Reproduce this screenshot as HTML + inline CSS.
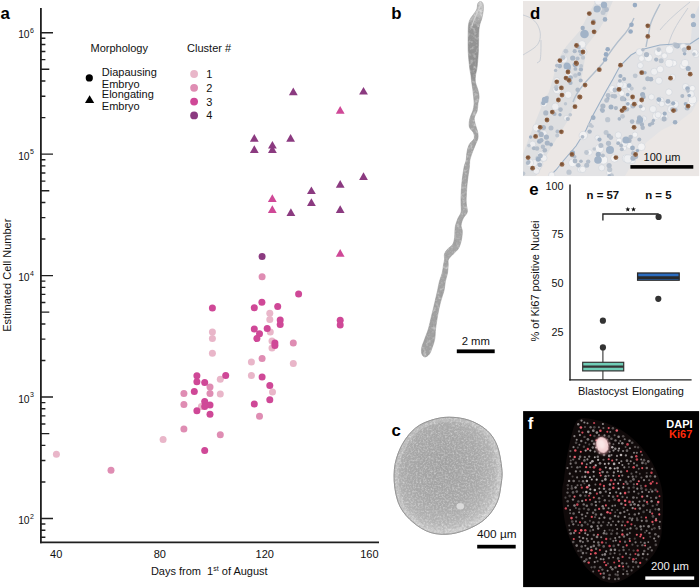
<!DOCTYPE html><html><head><meta charset="utf-8"><style>html,body{margin:0;padding:0;background:#fff;overflow:hidden}svg{display:block;}text{font-family:"Liberation Sans",sans-serif;}</style></head><body>
<svg width="700" height="588" viewBox="0 0 700 588">
<rect width="700" height="588" fill="#fff"/>
<text x="0.6" y="19.3" font-size="16.8" font-weight="bold" fill="#000">a</text>
<line x1="40.9" y1="8" x2="40.9" y2="543.2" stroke="#1f1f1f" stroke-width="1.8"/>
<line x1="40" y1="542.4" x2="379" y2="542.4" stroke="#1f1f1f" stroke-width="1.6"/>
<path d="M40.9 537.31H45.4 M40.9 530.27H45.4 M40.9 524.06H45.4 M40.9 518.50H53 M40.9 481.94H45.4 M40.9 460.55H45.4 M40.9 445.38H45.4 M40.9 433.61H49.3 M40.9 423.99H45.4 M40.9 415.86H45.4 M40.9 408.82H45.4 M40.9 402.61H45.4 M40.9 397.05H53 M40.9 360.49H45.4 M40.9 339.10H45.4 M40.9 323.93H45.4 M40.9 312.16H49.3 M40.9 302.54H45.4 M40.9 294.41H45.4 M40.9 287.37H45.4 M40.9 281.16H45.4 M40.9 275.60H53 M40.9 239.04H45.4 M40.9 217.65H45.4 M40.9 202.48H45.4 M40.9 190.71H49.3 M40.9 181.09H45.4 M40.9 172.96H45.4 M40.9 165.92H45.4 M40.9 159.71H45.4 M40.9 154.15H53 M40.9 117.59H45.4 M40.9 96.20H45.4 M40.9 81.03H45.4 M40.9 69.26H49.3 M40.9 59.64H45.4 M40.9 51.51H45.4 M40.9 44.47H45.4 M40.9 38.26H45.4 M40.9 32.70H53" stroke="#1f1f1f" stroke-width="1.4" fill="none"/>
<text x="29.6" y="524.00" font-size="10.3" text-anchor="end" fill="#111">10</text>
<text x="30.1" y="518.80" font-size="7" fill="#111">2</text>
<text x="29.6" y="402.55" font-size="10.3" text-anchor="end" fill="#111">10</text>
<text x="30.1" y="397.35" font-size="7" fill="#111">3</text>
<text x="29.6" y="281.10" font-size="10.3" text-anchor="end" fill="#111">10</text>
<text x="30.1" y="275.90" font-size="7" fill="#111">4</text>
<text x="29.6" y="159.65" font-size="10.3" text-anchor="end" fill="#111">10</text>
<text x="30.1" y="154.45" font-size="7" fill="#111">5</text>
<text x="29.6" y="38.20" font-size="10.3" text-anchor="end" fill="#111">10</text>
<text x="30.1" y="33.00" font-size="7" fill="#111">6</text>
<text x="56.2" y="557.7" font-size="11" text-anchor="middle" fill="#111">40</text>
<text x="159.8" y="557.7" font-size="11" text-anchor="middle" fill="#111">80</text>
<text x="264.8" y="557.7" font-size="11" text-anchor="middle" fill="#111">120</text>
<text x="369.4" y="557.7" font-size="11" text-anchor="middle" fill="#111">160</text>
<text x="150.9" y="574.7" font-size="11" fill="#111">Days from&#160; 1<tspan font-size="7" dy="-4">st</tspan><tspan dy="4"> of August</tspan></text>
<text transform="translate(11,275.2) rotate(-90)" font-size="11" text-anchor="middle" fill="#111">Estimated Cell Number</text>
<text x="90.5" y="51.7" font-size="11" fill="#111">Morphology</text>
<text x="187.1" y="51.7" font-size="11" fill="#111">Cluster #</text>
<circle cx="89.3" cy="77.9" r="3.6" fill="#000"/>
<path d="M89.6 95.3 L94.2 103.1 L85 103.1Z" fill="#000"/>
<text x="101.8" y="75.8" font-size="11" fill="#111">Diapausing</text>
<text x="101.8" y="87.8" font-size="11" fill="#111">Embryo</text>
<text x="101.8" y="98.3" font-size="11" fill="#111">Elongating</text>
<text x="101.8" y="109.8" font-size="11" fill="#111">Embryo</text>
<circle cx="194.1" cy="74.0" r="3.9" fill="#e9b6c9"/>
<text x="206.2" y="77.9" font-size="11" fill="#111">1</text>
<circle cx="194.1" cy="87.8" r="3.9" fill="#df8db3"/>
<text x="206.2" y="91.7" font-size="11" fill="#111">2</text>
<circle cx="194.1" cy="101.6" r="3.9" fill="#cf4897"/>
<text x="206.2" y="105.5" font-size="11" fill="#111">3</text>
<circle cx="194.1" cy="115.4" r="3.9" fill="#8b3a80"/>
<text x="206.2" y="119.3" font-size="11" fill="#111">4</text>
<circle cx="56.4" cy="454.3" r="3.5" fill="#e9b6c9"/>
<circle cx="163.1" cy="439.5" r="3.5" fill="#e9b6c9"/>
<circle cx="220.3" cy="379.3" r="3.5" fill="#e9b6c9"/>
<circle cx="220.3" cy="394" r="3.5" fill="#e9b6c9"/>
<circle cx="201.4" cy="406.4" r="3.5" fill="#e9b6c9"/>
<circle cx="212.4" cy="332.1" r="3.5" fill="#e9b6c9"/>
<circle cx="212.4" cy="338.6" r="3.5" fill="#e9b6c9"/>
<circle cx="212.4" cy="353.3" r="3.5" fill="#e9b6c9"/>
<circle cx="269.8" cy="313.2" r="3.5" fill="#e9b6c9"/>
<circle cx="269.8" cy="319.4" r="3.5" fill="#e9b6c9"/>
<circle cx="270.3" cy="332.1" r="3.5" fill="#e9b6c9"/>
<circle cx="272" cy="341.1" r="3.5" fill="#e9b6c9"/>
<circle cx="272" cy="348" r="3.5" fill="#e9b6c9"/>
<circle cx="251.4" cy="362.1" r="3.5" fill="#e9b6c9"/>
<circle cx="293.3" cy="363.6" r="3.5" fill="#e9b6c9"/>
<circle cx="251.4" cy="375.4" r="3.5" fill="#e9b6c9"/>
<circle cx="272.5" cy="391.9" r="3.5" fill="#e9b6c9"/>
<circle cx="111" cy="470.3" r="3.5" fill="#df8db3"/>
<circle cx="183.9" cy="429" r="3.5" fill="#df8db3"/>
<circle cx="220.3" cy="434.7" r="3.5" fill="#df8db3"/>
<circle cx="210" cy="386.9" r="3.5" fill="#df8db3"/>
<circle cx="183.9" cy="393.6" r="3.5" fill="#df8db3"/>
<circle cx="210" cy="393.6" r="3.5" fill="#df8db3"/>
<circle cx="183.9" cy="404.6" r="3.5" fill="#df8db3"/>
<circle cx="262.1" cy="276.8" r="3.5" fill="#df8db3"/>
<circle cx="293.3" cy="342.9" r="3.5" fill="#df8db3"/>
<circle cx="262.1" cy="358.6" r="3.5" fill="#df8db3"/>
<circle cx="259.5" cy="416.2" r="3.5" fill="#df8db3"/>
<circle cx="204.7" cy="450.4" r="3.5" fill="#cf4897"/>
<circle cx="196.9" cy="375.7" r="3.5" fill="#cf4897"/>
<circle cx="196.9" cy="381.7" r="3.5" fill="#cf4897"/>
<circle cx="204.7" cy="382.6" r="3.5" fill="#cf4897"/>
<circle cx="225.7" cy="375.4" r="3.5" fill="#cf4897"/>
<circle cx="194.3" cy="391.4" r="3.5" fill="#cf4897"/>
<circle cx="204.7" cy="401.4" r="3.5" fill="#cf4897"/>
<circle cx="210" cy="405" r="3.5" fill="#cf4897"/>
<circle cx="204.7" cy="406.4" r="3.5" fill="#cf4897"/>
<circle cx="196.9" cy="410.7" r="3.5" fill="#cf4897"/>
<circle cx="210" cy="414.3" r="3.5" fill="#cf4897"/>
<circle cx="212.4" cy="308.1" r="3.5" fill="#cf4897"/>
<circle cx="298.6" cy="294.1" r="3.5" fill="#cf4897"/>
<circle cx="261.9" cy="302.3" r="3.5" fill="#cf4897"/>
<circle cx="254.3" cy="307.7" r="3.5" fill="#cf4897"/>
<circle cx="277.7" cy="306.5" r="3.5" fill="#cf4897"/>
<circle cx="280.2" cy="320.1" r="3.5" fill="#cf4897"/>
<circle cx="280.2" cy="324.5" r="3.5" fill="#cf4897"/>
<circle cx="340.2" cy="320.3" r="3.5" fill="#cf4897"/>
<circle cx="340.2" cy="325.1" r="3.5" fill="#cf4897"/>
<circle cx="254.3" cy="329.1" r="3.5" fill="#cf4897"/>
<circle cx="267.2" cy="328.6" r="3.5" fill="#cf4897"/>
<circle cx="259.5" cy="333.8" r="3.5" fill="#cf4897"/>
<circle cx="256.9" cy="338.6" r="3.5" fill="#cf4897"/>
<circle cx="274.9" cy="342.9" r="3.5" fill="#cf4897"/>
<circle cx="274.9" cy="345.4" r="3.5" fill="#cf4897"/>
<circle cx="262.1" cy="377.1" r="3.5" fill="#cf4897"/>
<circle cx="269.8" cy="385.4" r="3.5" fill="#cf4897"/>
<circle cx="269.8" cy="399.8" r="3.5" fill="#cf4897"/>
<circle cx="254.3" cy="404.1" r="3.5" fill="#cf4897"/>
<circle cx="262.1" cy="256.6" r="3.5" fill="#8b3a80"/>
<path d="M293.3 87.5L297.7 95.2L288.9 95.2Z" fill="#8b3a80"/>
<path d="M363.5 86.9L367.9 94.6L359.1 94.6Z" fill="#8b3a80"/>
<path d="M340.2 106.1L344.6 113.8L335.8 113.8Z" fill="#cf4897"/>
<path d="M254.3 134.0L258.7 141.7L249.9 141.7Z" fill="#8b3a80"/>
<path d="M290.6 134.0L295.0 141.7L286.2 141.7Z" fill="#8b3a80"/>
<path d="M254.3 145.2L258.7 152.9L249.9 152.9Z" fill="#8b3a80"/>
<path d="M272.4 140.9L276.8 148.6L268.0 148.6Z" fill="#8b3a80"/>
<path d="M272.4 145.2L276.8 152.9L268.0 152.9Z" fill="#8b3a80"/>
<path d="M311.4 186.4L315.8 194.1L307.0 194.1Z" fill="#8b3a80"/>
<path d="M340.2 180.0L344.6 187.7L335.8 187.7Z" fill="#8b3a80"/>
<path d="M363.5 172.2L367.9 179.9L359.1 179.9Z" fill="#8b3a80"/>
<path d="M311.4 198.3L315.8 206L307.0 206Z" fill="#8b3a80"/>
<path d="M272.3 194.2L276.7 201.9L267.9 201.9Z" fill="#cf4897"/>
<path d="M272.3 205.2L276.7 212.9L267.9 212.9Z" fill="#cf4897"/>
<path d="M290.9 208.3L295.3 216L286.5 216Z" fill="#8b3a80"/>
<path d="M340.2 205.2L344.6 212.9L335.8 212.9Z" fill="#8b3a80"/>
<path d="M340.2 249.1L344.6 256.8L335.8 256.8Z" fill="#cf4897"/>
<text x="391.3" y="18.6" font-size="16.8" font-weight="bold" fill="#000">b</text>
<defs><linearGradient id="bg" x1="0" y1="0" x2="0" y2="1"><stop offset="0" stop-color="#cdcdcd"/><stop offset="0.035" stop-color="#c2c2c2"/><stop offset="0.07" stop-color="#959595"/><stop offset="0.2" stop-color="#8e8e8e"/><stop offset="0.25" stop-color="#a6a6a6"/><stop offset="0.4" stop-color="#a4a4a4"/><stop offset="0.7" stop-color="#a6a6a6"/><stop offset="1" stop-color="#a0a0a0"/></linearGradient></defs>
<path d="M477.8 3.5C477.2 4.9 477.7 7.5 476.5 10.0C475.3 12.5 471.9 16.0 470.6 18.4C469.3 20.8 469.0 22.1 468.6 24.5C468.2 26.9 468.3 28.3 468.2 32.7C468.1 37.1 468.0 45.2 468.2 51.0C468.4 56.8 469.2 63.3 469.6 67.3C470.0 71.3 470.5 72.5 470.9 75.0C471.2 77.5 471.4 79.8 471.7 82.2C472.0 84.6 472.5 87.1 472.8 89.5C473.1 91.9 473.3 94.3 473.6 96.7C473.8 99.1 474.2 101.5 474.1 103.9C474.0 106.3 473.5 108.7 472.8 111.1C472.0 113.5 470.4 115.8 469.9 118.4C469.3 121.1 468.8 124.6 469.4 127.0C470.0 129.4 472.7 130.9 473.5 132.8C474.2 134.7 474.8 136.7 474.1 138.6C473.4 140.5 470.5 142.2 469.3 144.4C468.1 146.6 467.6 149.0 467.1 151.6C466.5 154.2 466.7 157.4 466.2 160.0C465.7 162.6 464.8 163.5 464.1 167.1C463.4 170.7 462.6 176.6 462.0 181.4C461.5 186.2 461.2 191.9 461.0 195.7C460.9 199.4 461.0 201.2 461.0 203.9C461.0 206.6 461.6 209.6 461.1 212.0C460.6 214.4 459.0 216.0 458.0 218.2C457.1 220.4 456.1 223.3 455.5 225.4C455.0 227.5 455.1 228.9 454.9 230.9C454.7 232.9 455.0 235.4 454.6 237.7C454.2 240.0 453.8 242.6 452.6 244.5C451.4 246.4 448.7 247.7 447.4 249.3C446.0 250.9 445.0 252.3 444.5 254.0C444.0 255.7 444.7 257.7 444.5 259.5C444.4 261.3 443.9 262.6 443.5 264.9C443.1 267.1 442.9 270.3 442.2 273.0C441.6 275.7 440.3 278.2 439.5 281.2C438.7 284.1 438.3 287.1 437.5 290.7C436.7 294.3 435.7 298.7 434.7 302.9C433.8 307.1 432.6 311.4 431.6 315.7C430.5 320.0 429.6 324.8 428.5 328.6C427.4 332.5 425.9 335.6 424.8 338.8C423.7 342.0 422.1 345.2 421.7 347.8C421.2 350.4 421.4 352.8 422.0 354.3C422.5 355.8 423.8 357.0 425.0 357.0C426.2 357.0 428.0 355.8 429.2 354.3C430.4 352.8 431.2 350.4 432.1 347.8C433.1 345.2 434.2 342.0 434.8 338.8C435.4 335.6 435.1 332.5 435.6 328.6C436.1 324.8 436.8 320.0 437.6 315.7C438.4 311.4 439.2 307.1 440.3 302.9C441.3 298.7 443.1 294.3 444.0 290.7C444.8 287.1 444.8 284.1 445.4 281.2C446.0 278.2 447.0 275.7 447.5 273.0C447.9 270.3 448.0 267.1 448.2 264.9C448.4 262.6 447.6 261.3 448.5 259.5C449.3 257.7 451.7 255.7 453.3 254.0C454.9 252.3 456.8 250.9 457.9 249.3C459.1 247.7 459.5 246.4 460.2 244.5C460.8 242.6 461.5 240.0 461.8 237.7C462.2 235.4 462.4 232.9 462.3 230.9C462.2 228.9 460.9 227.5 461.1 225.4C461.2 223.3 462.2 220.4 463.3 218.2C464.3 216.0 466.8 214.4 467.3 212.0C467.8 209.6 466.4 206.6 466.3 203.9C466.1 201.2 466.1 199.4 466.3 195.7C466.5 191.9 466.8 186.2 467.4 181.4C467.9 176.6 469.0 170.7 469.4 167.1C469.8 163.5 469.4 162.6 469.9 160.0C470.4 157.4 471.7 154.2 472.6 151.6C473.6 149.0 474.6 146.6 475.5 144.4C476.4 142.2 477.5 140.5 477.9 138.6C478.3 136.7 478.1 134.7 477.8 132.8C477.6 130.9 476.7 129.4 476.1 127.0C475.5 124.6 474.1 121.1 474.2 118.4C474.4 115.8 476.5 113.5 477.1 111.1C477.8 108.7 477.6 106.3 477.9 103.9C478.2 101.5 479.2 99.1 479.1 96.7C479.1 94.3 478.4 91.9 477.8 89.5C477.2 87.1 475.8 84.6 475.4 82.2C475.0 79.8 475.3 77.5 475.6 75.0C475.9 72.5 476.6 71.3 477.1 67.3C477.6 63.3 478.1 56.8 478.4 51.0C478.7 45.2 478.6 37.1 478.8 32.7C479.0 28.3 479.3 26.9 479.8 24.5C480.3 22.1 481.2 20.8 481.8 18.4C482.4 16.0 483.1 12.5 483.3 10.0C483.5 7.5 483.4 4.9 482.9 3.5C482.4 2.1 481.1 1.5 480.3 1.5C479.5 1.5 478.4 2.1 477.8 3.5Z" fill="url(#bg)" stroke="#8f8f8f" stroke-width="0.5"/>
<filter id="nzb" x="0" y="0" width="1" height="1"><feTurbulence type="fractalNoise" baseFrequency="0.3" numOctaves="2" seed="4"/><feColorMatrix type="matrix" values="0 0 0 0 1  0 0 0 0 1  0 0 0 0 1  1.2 0 0 0 -0.58"/><feComposite in2="SourceGraphic" operator="in"/></filter>
<filter id="nzb2" x="0" y="0" width="1" height="1"><feTurbulence type="fractalNoise" baseFrequency="0.35" numOctaves="2" seed="11"/><feColorMatrix type="matrix" values="0 0 0 0 0.3  0 0 0 0 0.3  0 0 0 0 0.3  1.4 0 0 0 -0.65"/><feComposite in2="SourceGraphic" operator="in"/></filter>
<path d="M477.8 3.5C477.2 4.9 477.7 7.5 476.5 10.0C475.3 12.5 471.9 16.0 470.6 18.4C469.3 20.8 469.0 22.1 468.6 24.5C468.2 26.9 468.3 28.3 468.2 32.7C468.1 37.1 468.0 45.2 468.2 51.0C468.4 56.8 469.2 63.3 469.6 67.3C470.0 71.3 470.5 72.5 470.9 75.0C471.2 77.5 471.4 79.8 471.7 82.2C472.0 84.6 472.5 87.1 472.8 89.5C473.1 91.9 473.3 94.3 473.6 96.7C473.8 99.1 474.2 101.5 474.1 103.9C474.0 106.3 473.5 108.7 472.8 111.1C472.0 113.5 470.4 115.8 469.9 118.4C469.3 121.1 468.8 124.6 469.4 127.0C470.0 129.4 472.7 130.9 473.5 132.8C474.2 134.7 474.8 136.7 474.1 138.6C473.4 140.5 470.5 142.2 469.3 144.4C468.1 146.6 467.6 149.0 467.1 151.6C466.5 154.2 466.7 157.4 466.2 160.0C465.7 162.6 464.8 163.5 464.1 167.1C463.4 170.7 462.6 176.6 462.0 181.4C461.5 186.2 461.2 191.9 461.0 195.7C460.9 199.4 461.0 201.2 461.0 203.9C461.0 206.6 461.6 209.6 461.1 212.0C460.6 214.4 459.0 216.0 458.0 218.2C457.1 220.4 456.1 223.3 455.5 225.4C455.0 227.5 455.1 228.9 454.9 230.9C454.7 232.9 455.0 235.4 454.6 237.7C454.2 240.0 453.8 242.6 452.6 244.5C451.4 246.4 448.7 247.7 447.4 249.3C446.0 250.9 445.0 252.3 444.5 254.0C444.0 255.7 444.7 257.7 444.5 259.5C444.4 261.3 443.9 262.6 443.5 264.9C443.1 267.1 442.9 270.3 442.2 273.0C441.6 275.7 440.3 278.2 439.5 281.2C438.7 284.1 438.3 287.1 437.5 290.7C436.7 294.3 435.7 298.7 434.7 302.9C433.8 307.1 432.6 311.4 431.6 315.7C430.5 320.0 429.6 324.8 428.5 328.6C427.4 332.5 425.9 335.6 424.8 338.8C423.7 342.0 422.1 345.2 421.7 347.8C421.2 350.4 421.4 352.8 422.0 354.3C422.5 355.8 423.8 357.0 425.0 357.0C426.2 357.0 428.0 355.8 429.2 354.3C430.4 352.8 431.2 350.4 432.1 347.8C433.1 345.2 434.2 342.0 434.8 338.8C435.4 335.6 435.1 332.5 435.6 328.6C436.1 324.8 436.8 320.0 437.6 315.7C438.4 311.4 439.2 307.1 440.3 302.9C441.3 298.7 443.1 294.3 444.0 290.7C444.8 287.1 444.8 284.1 445.4 281.2C446.0 278.2 447.0 275.7 447.5 273.0C447.9 270.3 448.0 267.1 448.2 264.9C448.4 262.6 447.6 261.3 448.5 259.5C449.3 257.7 451.7 255.7 453.3 254.0C454.9 252.3 456.8 250.9 457.9 249.3C459.1 247.7 459.5 246.4 460.2 244.5C460.8 242.6 461.5 240.0 461.8 237.7C462.2 235.4 462.4 232.9 462.3 230.9C462.2 228.9 460.9 227.5 461.1 225.4C461.2 223.3 462.2 220.4 463.3 218.2C464.3 216.0 466.8 214.4 467.3 212.0C467.8 209.6 466.4 206.6 466.3 203.9C466.1 201.2 466.1 199.4 466.3 195.7C466.5 191.9 466.8 186.2 467.4 181.4C467.9 176.6 469.0 170.7 469.4 167.1C469.8 163.5 469.4 162.6 469.9 160.0C470.4 157.4 471.7 154.2 472.6 151.6C473.6 149.0 474.6 146.6 475.5 144.4C476.4 142.2 477.5 140.5 477.9 138.6C478.3 136.7 478.1 134.7 477.8 132.8C477.6 130.9 476.7 129.4 476.1 127.0C475.5 124.6 474.1 121.1 474.2 118.4C474.4 115.8 476.5 113.5 477.1 111.1C477.8 108.7 477.6 106.3 477.9 103.9C478.2 101.5 479.2 99.1 479.1 96.7C479.1 94.3 478.4 91.9 477.8 89.5C477.2 87.1 475.8 84.6 475.4 82.2C475.0 79.8 475.3 77.5 475.6 75.0C475.9 72.5 476.6 71.3 477.1 67.3C477.6 63.3 478.1 56.8 478.4 51.0C478.7 45.2 478.6 37.1 478.8 32.7C479.0 28.3 479.3 26.9 479.8 24.5C480.3 22.1 481.2 20.8 481.8 18.4C482.4 16.0 483.1 12.5 483.3 10.0C483.5 7.5 483.4 4.9 482.9 3.5C482.4 2.1 481.1 1.5 480.3 1.5C479.5 1.5 478.4 2.1 477.8 3.5Z" fill="#000" filter="url(#nzb)"/>
<path d="M477.8 3.5C477.2 4.9 477.7 7.5 476.5 10.0C475.3 12.5 471.9 16.0 470.6 18.4C469.3 20.8 469.0 22.1 468.6 24.5C468.2 26.9 468.3 28.3 468.2 32.7C468.1 37.1 468.0 45.2 468.2 51.0C468.4 56.8 469.2 63.3 469.6 67.3C470.0 71.3 470.5 72.5 470.9 75.0C471.2 77.5 471.4 79.8 471.7 82.2C472.0 84.6 472.5 87.1 472.8 89.5C473.1 91.9 473.3 94.3 473.6 96.7C473.8 99.1 474.2 101.5 474.1 103.9C474.0 106.3 473.5 108.7 472.8 111.1C472.0 113.5 470.4 115.8 469.9 118.4C469.3 121.1 468.8 124.6 469.4 127.0C470.0 129.4 472.7 130.9 473.5 132.8C474.2 134.7 474.8 136.7 474.1 138.6C473.4 140.5 470.5 142.2 469.3 144.4C468.1 146.6 467.6 149.0 467.1 151.6C466.5 154.2 466.7 157.4 466.2 160.0C465.7 162.6 464.8 163.5 464.1 167.1C463.4 170.7 462.6 176.6 462.0 181.4C461.5 186.2 461.2 191.9 461.0 195.7C460.9 199.4 461.0 201.2 461.0 203.9C461.0 206.6 461.6 209.6 461.1 212.0C460.6 214.4 459.0 216.0 458.0 218.2C457.1 220.4 456.1 223.3 455.5 225.4C455.0 227.5 455.1 228.9 454.9 230.9C454.7 232.9 455.0 235.4 454.6 237.7C454.2 240.0 453.8 242.6 452.6 244.5C451.4 246.4 448.7 247.7 447.4 249.3C446.0 250.9 445.0 252.3 444.5 254.0C444.0 255.7 444.7 257.7 444.5 259.5C444.4 261.3 443.9 262.6 443.5 264.9C443.1 267.1 442.9 270.3 442.2 273.0C441.6 275.7 440.3 278.2 439.5 281.2C438.7 284.1 438.3 287.1 437.5 290.7C436.7 294.3 435.7 298.7 434.7 302.9C433.8 307.1 432.6 311.4 431.6 315.7C430.5 320.0 429.6 324.8 428.5 328.6C427.4 332.5 425.9 335.6 424.8 338.8C423.7 342.0 422.1 345.2 421.7 347.8C421.2 350.4 421.4 352.8 422.0 354.3C422.5 355.8 423.8 357.0 425.0 357.0C426.2 357.0 428.0 355.8 429.2 354.3C430.4 352.8 431.2 350.4 432.1 347.8C433.1 345.2 434.2 342.0 434.8 338.8C435.4 335.6 435.1 332.5 435.6 328.6C436.1 324.8 436.8 320.0 437.6 315.7C438.4 311.4 439.2 307.1 440.3 302.9C441.3 298.7 443.1 294.3 444.0 290.7C444.8 287.1 444.8 284.1 445.4 281.2C446.0 278.2 447.0 275.7 447.5 273.0C447.9 270.3 448.0 267.1 448.2 264.9C448.4 262.6 447.6 261.3 448.5 259.5C449.3 257.7 451.7 255.7 453.3 254.0C454.9 252.3 456.8 250.9 457.9 249.3C459.1 247.7 459.5 246.4 460.2 244.5C460.8 242.6 461.5 240.0 461.8 237.7C462.2 235.4 462.4 232.9 462.3 230.9C462.2 228.9 460.9 227.5 461.1 225.4C461.2 223.3 462.2 220.4 463.3 218.2C464.3 216.0 466.8 214.4 467.3 212.0C467.8 209.6 466.4 206.6 466.3 203.9C466.1 201.2 466.1 199.4 466.3 195.7C466.5 191.9 466.8 186.2 467.4 181.4C467.9 176.6 469.0 170.7 469.4 167.1C469.8 163.5 469.4 162.6 469.9 160.0C470.4 157.4 471.7 154.2 472.6 151.6C473.6 149.0 474.6 146.6 475.5 144.4C476.4 142.2 477.5 140.5 477.9 138.6C478.3 136.7 478.1 134.7 477.8 132.8C477.6 130.9 476.7 129.4 476.1 127.0C475.5 124.6 474.1 121.1 474.2 118.4C474.4 115.8 476.5 113.5 477.1 111.1C477.8 108.7 477.6 106.3 477.9 103.9C478.2 101.5 479.2 99.1 479.1 96.7C479.1 94.3 478.4 91.9 477.8 89.5C477.2 87.1 475.8 84.6 475.4 82.2C475.0 79.8 475.3 77.5 475.6 75.0C475.9 72.5 476.6 71.3 477.1 67.3C477.6 63.3 478.1 56.8 478.4 51.0C478.7 45.2 478.6 37.1 478.8 32.7C479.0 28.3 479.3 26.9 479.8 24.5C480.3 22.1 481.2 20.8 481.8 18.4C482.4 16.0 483.1 12.5 483.3 10.0C483.5 7.5 483.4 4.9 482.9 3.5C482.4 2.1 481.1 1.5 480.3 1.5C479.5 1.5 478.4 2.1 477.8 3.5Z" fill="#000" filter="url(#nzb2)"/>
<path d="M480.5 5 C478 12 474 18 472 26" stroke="#d6d6d6" stroke-width="1.2" fill="none" opacity="0.8"/>
<rect x="456.8" y="349.4" width="37.9" height="3.8" fill="#000"/>
<text x="475.8" y="344.6" font-size="11.3" text-anchor="middle" fill="#111">2 mm</text>
<text x="391.4" y="435.8" font-size="16.8" font-weight="bold" fill="#000">c</text>
<defs><radialGradient id="cg" cx="0.45" cy="0.42" r="0.58"><stop offset="0" stop-color="#a0a0a0"/><stop offset="0.55" stop-color="#a7a7a7"/><stop offset="0.8" stop-color="#b3b3b3"/><stop offset="0.93" stop-color="#c4c4c4"/><stop offset="1" stop-color="#cfcfcf"/></radialGradient><filter id="nz" x="0" y="0" width="1" height="1"><feTurbulence type="fractalNoise" baseFrequency="0.55" numOctaves="2" seed="5"/><feColorMatrix type="matrix" values="0 0 0 0 1  0 0 0 0 1  0 0 0 0 1  1.0 0 0 0 -0.42"/><feComposite in2="SourceGraphic" operator="in"/></filter><filter id="nz2" x="0" y="0" width="1" height="1"><feTurbulence type="fractalNoise" baseFrequency="0.42" numOctaves="2" seed="9"/><feColorMatrix type="matrix" values="0 0 0 0 0.4  0 0 0 0 0.4  0 0 0 0 0.4  1.5 0 0 0 -0.6"/><feComposite in2="SourceGraphic" operator="in"/></filter></defs>
<path d="M448.8 417.2C455.2 417.2 462.8 418.1 469.2 420.3C475.6 422.5 482.3 426.2 487.0 430.5C491.7 434.8 494.7 439.4 497.2 445.8C499.7 452.2 501.1 462.4 501.8 468.8C502.5 475.2 501.9 478.6 501.1 484.1C500.3 489.6 499.6 496.4 497.2 501.9C494.8 507.4 491.2 513.0 487.0 517.2C482.8 521.5 477.6 524.6 471.7 527.4C465.8 530.2 458.1 532.9 451.3 533.8C444.5 534.7 437.3 534.5 430.9 532.6C424.5 530.7 418.2 526.6 413.1 522.3C408.0 518.0 403.4 513.0 400.3 507.0C397.2 501.1 395.6 493.8 394.7 486.6C393.8 479.4 393.8 470.9 395.2 463.7C396.6 456.5 399.5 449.2 402.9 443.3C406.3 437.4 410.9 431.8 415.6 428.0C420.3 424.2 425.4 422.1 430.9 420.3C436.4 418.5 442.4 417.2 448.8 417.2Z" fill="url(#cg)" stroke="#7a7a7a" stroke-width="0.7"/>
<clipPath id="cclip"><path d="M448.8 417.2C455.2 417.2 462.8 418.1 469.2 420.3C475.6 422.5 482.3 426.2 487.0 430.5C491.7 434.8 494.7 439.4 497.2 445.8C499.7 452.2 501.1 462.4 501.8 468.8C502.5 475.2 501.9 478.6 501.1 484.1C500.3 489.6 499.6 496.4 497.2 501.9C494.8 507.4 491.2 513.0 487.0 517.2C482.8 521.5 477.6 524.6 471.7 527.4C465.8 530.2 458.1 532.9 451.3 533.8C444.5 534.7 437.3 534.5 430.9 532.6C424.5 530.7 418.2 526.6 413.1 522.3C408.0 518.0 403.4 513.0 400.3 507.0C397.2 501.1 395.6 493.8 394.7 486.6C393.8 479.4 393.8 470.9 395.2 463.7C396.6 456.5 399.5 449.2 402.9 443.3C406.3 437.4 410.9 431.8 415.6 428.0C420.3 424.2 425.4 422.1 430.9 420.3C436.4 418.5 442.4 417.2 448.8 417.2Z"/></clipPath>
<path d="M448.8 417.2C455.2 417.2 462.8 418.1 469.2 420.3C475.6 422.5 482.3 426.2 487.0 430.5C491.7 434.8 494.7 439.4 497.2 445.8C499.7 452.2 501.1 462.4 501.8 468.8C502.5 475.2 501.9 478.6 501.1 484.1C500.3 489.6 499.6 496.4 497.2 501.9C494.8 507.4 491.2 513.0 487.0 517.2C482.8 521.5 477.6 524.6 471.7 527.4C465.8 530.2 458.1 532.9 451.3 533.8C444.5 534.7 437.3 534.5 430.9 532.6C424.5 530.7 418.2 526.6 413.1 522.3C408.0 518.0 403.4 513.0 400.3 507.0C397.2 501.1 395.6 493.8 394.7 486.6C393.8 479.4 393.8 470.9 395.2 463.7C396.6 456.5 399.5 449.2 402.9 443.3C406.3 437.4 410.9 431.8 415.6 428.0C420.3 424.2 425.4 422.1 430.9 420.3C436.4 418.5 442.4 417.2 448.8 417.2Z" fill="none" stroke="#d4d4d4" stroke-width="9" opacity="0.4" clip-path="url(#cclip)"/>
<path d="M448.8 417.2C455.2 417.2 462.8 418.1 469.2 420.3C475.6 422.5 482.3 426.2 487.0 430.5C491.7 434.8 494.7 439.4 497.2 445.8C499.7 452.2 501.1 462.4 501.8 468.8C502.5 475.2 501.9 478.6 501.1 484.1C500.3 489.6 499.6 496.4 497.2 501.9C494.8 507.4 491.2 513.0 487.0 517.2C482.8 521.5 477.6 524.6 471.7 527.4C465.8 530.2 458.1 532.9 451.3 533.8C444.5 534.7 437.3 534.5 430.9 532.6C424.5 530.7 418.2 526.6 413.1 522.3C408.0 518.0 403.4 513.0 400.3 507.0C397.2 501.1 395.6 493.8 394.7 486.6C393.8 479.4 393.8 470.9 395.2 463.7C396.6 456.5 399.5 449.2 402.9 443.3C406.3 437.4 410.9 431.8 415.6 428.0C420.3 424.2 425.4 422.1 430.9 420.3C436.4 418.5 442.4 417.2 448.8 417.2Z" fill="#000" filter="url(#nz)"/>
<path d="M448.8 417.2C455.2 417.2 462.8 418.1 469.2 420.3C475.6 422.5 482.3 426.2 487.0 430.5C491.7 434.8 494.7 439.4 497.2 445.8C499.7 452.2 501.1 462.4 501.8 468.8C502.5 475.2 501.9 478.6 501.1 484.1C500.3 489.6 499.6 496.4 497.2 501.9C494.8 507.4 491.2 513.0 487.0 517.2C482.8 521.5 477.6 524.6 471.7 527.4C465.8 530.2 458.1 532.9 451.3 533.8C444.5 534.7 437.3 534.5 430.9 532.6C424.5 530.7 418.2 526.6 413.1 522.3C408.0 518.0 403.4 513.0 400.3 507.0C397.2 501.1 395.6 493.8 394.7 486.6C393.8 479.4 393.8 470.9 395.2 463.7C396.6 456.5 399.5 449.2 402.9 443.3C406.3 437.4 410.9 431.8 415.6 428.0C420.3 424.2 425.4 422.1 430.9 420.3C436.4 418.5 442.4 417.2 448.8 417.2Z" fill="#000" filter="url(#nz2)"/>
<path d="M448.8 417.2C455.2 417.2 462.8 418.1 469.2 420.3C475.6 422.5 482.3 426.2 487.0 430.5C491.7 434.8 494.7 439.4 497.2 445.8C499.7 452.2 501.1 462.4 501.8 468.8C502.5 475.2 501.9 478.6 501.1 484.1C500.3 489.6 499.6 496.4 497.2 501.9C494.8 507.4 491.2 513.0 487.0 517.2C482.8 521.5 477.6 524.6 471.7 527.4C465.8 530.2 458.1 532.9 451.3 533.8C444.5 534.7 437.3 534.5 430.9 532.6C424.5 530.7 418.2 526.6 413.1 522.3C408.0 518.0 403.4 513.0 400.3 507.0C397.2 501.1 395.6 493.8 394.7 486.6C393.8 479.4 393.8 470.9 395.2 463.7C396.6 456.5 399.5 449.2 402.9 443.3C406.3 437.4 410.9 431.8 415.6 428.0C420.3 424.2 425.4 422.1 430.9 420.3C436.4 418.5 442.4 417.2 448.8 417.2Z" fill="none" stroke="#8c8c8c" stroke-width="0.6"/>
<ellipse cx="460.3" cy="506.3" rx="4.2" ry="3.6" fill="#dadada" stroke="#9a9a9a" stroke-width="0.5"/>
<rect x="477.2" y="544.8" width="38.5" height="3.7" fill="#000"/>
<text x="496.8" y="537.6" font-size="11.8" text-anchor="middle" fill="#111">400 µm</text>
<rect x="523" y="1" width="176.2" height="175.1" fill="#ebe7e5"/>
<clipPath id="dclip"><rect x="523" y="1" width="176.2" height="175.1"/></clipPath>
<g clip-path="url(#dclip)">
<path d="M595.5 1 L588 15 L580 30.6 L566.4 46 L557.2 61.3 L553.5 76.6 L549 92 L544.1 100 L536.1 120 L528 140.3 L523 154 L523 176 L536 176 L540.1 168.4 L548.1 152.4 L558.1 136.3 L568.2 120 L576.2 100 L579.5 88 L582.2 75 L584.5 61.3 L586.3 46 L598.6 30.6 L606 18 L609 10 L612.9 1Z" fill="#dedfe1"/>
<path d="M699 38 L690 44 L675 44 L660 45 L648 48 L640 50 L631 55 L620 66 L613 79 L605 93 L598 106 L592 117 L586 130 L576 146 L564 160 L556 170 L550 176 L625 176 L634.1 160.6 L646.2 142.4 L661.4 130.3 L679.6 121.2 L691.7 112.1 L699 100Z" fill="#e3e3e5"/>
<path d="M699 5 L695 14 L692 26 L691 38 L690 44 L699 44Z" fill="#dfe1e5"/>
<path d="M660 4 C656 12 652 18 650 26 C649 34 647 40 646 47 M634 18 C631 25 628 31 622 37 C614 46 608 55 603 63 C597 70 590 77 584 84 C579 90 575 96 573 102" stroke="#b3bfcc" stroke-width="1.4" fill="none"/>
<path d="M523 15 C530 17 536 20 539 28 C542 36 540 44 534 48 C530 51 526 53 523 55 M541 40 C541 48 541 56 540 61 L537 63 M690 2 C680 10 668 20 660 30 M668 46 C672 30 680 20 688 8" stroke="#c6ccd4" stroke-width="0.9" fill="none"/>
<path d="M699 38 L690 44 L675 44 L660 45 L648 48 L640 50 L631 55 L620 66 L613 79 L605 93 L598 106 L592 117 L586 130 L576 146 L564 160 L556 170 L550 176" stroke="#9cb0c6" stroke-width="1.1" fill="none"/>
<circle cx="629.8" cy="88.5" r="2.6" fill="#eeeff1" stroke="#c9ced6" stroke-width="0.5"/>
<circle cx="644.0" cy="118.5" r="2.6" fill="#eeeff1" stroke="#c9ced6" stroke-width="0.5"/>
<circle cx="609.1" cy="172.7" r="2.6" fill="#f3f3f4" stroke="#c9ced6" stroke-width="0.5"/>
<circle cx="671.6" cy="62.9" r="3.5" fill="#eeeff1" stroke="#c9ced6" stroke-width="0.5"/>
<circle cx="656.1" cy="115.9" r="3.6" fill="#f1f1f2" stroke="#c9ced6" stroke-width="0.5"/>
<circle cx="651.4" cy="97.0" r="3.0" fill="#eeeff1" stroke="#c9ced6" stroke-width="0.5"/>
<circle cx="687.6" cy="87.9" r="2.9" fill="#f3f3f4" stroke="#c9ced6" stroke-width="0.5"/>
<circle cx="654.2" cy="71.7" r="3.5" fill="#eeeff1" stroke="#c9ced6" stroke-width="0.5"/>
<circle cx="623.8" cy="85.4" r="3.3" fill="#eeeff1" stroke="#c9ced6" stroke-width="0.5"/>
<circle cx="696.0" cy="54.3" r="3.2" fill="#f1f1f2" stroke="#c9ced6" stroke-width="0.5"/>
<circle cx="663.9" cy="117.1" r="4.0" fill="#f1f1f2" stroke="#c9ced6" stroke-width="0.5"/>
<circle cx="624.0" cy="148.0" r="2.6" fill="#f3f3f4" stroke="#c9ced6" stroke-width="0.5"/>
<circle cx="690.8" cy="103.4" r="3.6" fill="#f3f3f4" stroke="#c9ced6" stroke-width="0.5"/>
<circle cx="658.9" cy="80.7" r="3.5" fill="#eeeff1" stroke="#c9ced6" stroke-width="0.5"/>
<circle cx="672.5" cy="77.3" r="3.2" fill="#eeeff1" stroke="#c9ced6" stroke-width="0.5"/>
<circle cx="601.7" cy="167.8" r="3.1" fill="#eeeff1" stroke="#c9ced6" stroke-width="0.5"/>
<circle cx="664.5" cy="55.8" r="2.9" fill="#f1f1f2" stroke="#c9ced6" stroke-width="0.5"/>
<circle cx="686.6" cy="106.5" r="2.8" fill="#f1f1f2" stroke="#c9ced6" stroke-width="0.5"/>
<circle cx="631.9" cy="159.9" r="3.9" fill="#eeeff1" stroke="#c9ced6" stroke-width="0.5"/>
<circle cx="603.5" cy="160.0" r="4.1" fill="#f3f3f4" stroke="#c9ced6" stroke-width="0.5"/>
<circle cx="673.8" cy="63.2" r="3.0" fill="#f3f3f4" stroke="#c9ced6" stroke-width="0.5"/>
<circle cx="612.4" cy="89.0" r="3.5" fill="#f3f3f4" stroke="#c9ced6" stroke-width="0.5"/>
<circle cx="652.9" cy="109.1" r="3.5" fill="#eeeff1" stroke="#c9ced6" stroke-width="0.5"/>
<circle cx="660.2" cy="101.0" r="4.0" fill="#eeeff1" stroke="#c9ced6" stroke-width="0.5"/>
<circle cx="668.9" cy="92.1" r="3.2" fill="#f3f3f4" stroke="#c9ced6" stroke-width="0.5"/>
<circle cx="621.7" cy="93.3" r="2.8" fill="#f3f3f4" stroke="#c9ced6" stroke-width="0.5"/>
<circle cx="639.5" cy="52.1" r="3.5" fill="#eeeff1" stroke="#c9ced6" stroke-width="0.5"/>
<circle cx="641.5" cy="58.5" r="2.9" fill="#f1f1f2" stroke="#c9ced6" stroke-width="0.5"/>
<circle cx="639.7" cy="103.4" r="2.7" fill="#f1f1f2" stroke="#c9ced6" stroke-width="0.5"/>
<circle cx="589.4" cy="152.4" r="2.8" fill="#f3f3f4" stroke="#c9ced6" stroke-width="0.5"/>
<circle cx="580.6" cy="169.4" r="3.1" fill="#eeeff1" stroke="#c9ced6" stroke-width="0.5"/>
<circle cx="629.4" cy="145.5" r="3.1" fill="#f3f3f4" stroke="#c9ced6" stroke-width="0.5"/>
<circle cx="641.4" cy="146.8" r="3.8" fill="#f3f3f4" stroke="#c9ced6" stroke-width="0.5"/>
<circle cx="660.2" cy="69.3" r="3.4" fill="#f1f1f2" stroke="#c9ced6" stroke-width="0.5"/>
<circle cx="667.7" cy="103.2" r="2.8" fill="#eeeff1" stroke="#c9ced6" stroke-width="0.5"/>
<circle cx="692.5" cy="99.7" r="4.1" fill="#f1f1f2" stroke="#c9ced6" stroke-width="0.5"/>
<circle cx="692.3" cy="88.3" r="2.9" fill="#f3f3f4" stroke="#c9ced6" stroke-width="0.5"/>
<circle cx="620.0" cy="84.6" r="3.3" fill="#eeeff1" stroke="#c9ced6" stroke-width="0.5"/>
<circle cx="675.2" cy="104.2" r="3.6" fill="#eeeff1" stroke="#c9ced6" stroke-width="0.5"/>
<circle cx="661.8" cy="104.0" r="2.8" fill="#eeeff1" stroke="#c9ced6" stroke-width="0.5"/>
<circle cx="599.5" cy="148.5" r="4.2" fill="#f1f1f2" stroke="#c9ced6" stroke-width="0.5"/>
<circle cx="619.0" cy="140.6" r="2.6" fill="#f3f3f4" stroke="#c9ced6" stroke-width="0.5"/>
<circle cx="572.5" cy="162.9" r="3.9" fill="#f3f3f4" stroke="#c9ced6" stroke-width="0.5"/>
<circle cx="641.1" cy="120.2" r="3.3" fill="#f1f1f2" stroke="#c9ced6" stroke-width="0.5"/>
<circle cx="658.2" cy="52.2" r="3.8" fill="#f3f3f4" stroke="#c9ced6" stroke-width="0.5"/>
<circle cx="614.6" cy="158.3" r="3.9" fill="#f3f3f4" stroke="#c9ced6" stroke-width="0.5"/>
<circle cx="624.7" cy="143.4" r="3.1" fill="#eeeff1" stroke="#c9ced6" stroke-width="0.5"/>
<circle cx="685.6" cy="86.8" r="3.3" fill="#eeeff1" stroke="#c9ced6" stroke-width="0.5"/>
<circle cx="671.4" cy="109.3" r="3.9" fill="#eeeff1" stroke="#c9ced6" stroke-width="0.5"/>
<circle cx="626.1" cy="158.4" r="3.8" fill="#eeeff1" stroke="#c9ced6" stroke-width="0.5"/>
<circle cx="658.1" cy="114.8" r="3.1" fill="#eeeff1" stroke="#c9ced6" stroke-width="0.5"/>
<circle cx="629.1" cy="104.6" r="3.8" fill="#eeeff1" stroke="#c9ced6" stroke-width="0.5"/>
<circle cx="683.2" cy="46.7" r="3.1" fill="#eeeff1" stroke="#c9ced6" stroke-width="0.5"/>
<circle cx="640.3" cy="65.5" r="3.0" fill="#eeeff1" stroke="#c9ced6" stroke-width="0.5"/>
<circle cx="629.5" cy="104.0" r="4.1" fill="#eeeff1" stroke="#c9ced6" stroke-width="0.5"/>
<circle cx="628.0" cy="158.9" r="4.1" fill="#eeeff1" stroke="#c9ced6" stroke-width="0.5"/>
<circle cx="683.0" cy="66.0" r="3.3" fill="#f1f1f2" stroke="#c9ced6" stroke-width="0.5"/>
<circle cx="648.4" cy="57.7" r="4.0" fill="#f1f1f2" stroke="#c9ced6" stroke-width="0.5"/>
<circle cx="582.7" cy="169.4" r="3.2" fill="#f1f1f2" stroke="#c9ced6" stroke-width="0.5"/>
<circle cx="583.3" cy="135.5" r="4.2" fill="#f1f1f2" stroke="#c9ced6" stroke-width="0.5"/>
<circle cx="597.5" cy="137.7" r="2.5" fill="#eeeff1" stroke="#c9ced6" stroke-width="0.5"/>
<circle cx="618.3" cy="135.0" r="3.2" fill="#eeeff1" stroke="#c9ced6" stroke-width="0.5"/>
<circle cx="643.0" cy="108.7" r="2.6" fill="#f3f3f4" stroke="#c9ced6" stroke-width="0.5"/>
<circle cx="694.8" cy="52.5" r="3.0" fill="#f3f3f4" stroke="#c9ced6" stroke-width="0.5"/>
<circle cx="685.0" cy="63.1" r="3.8" fill="#f1f1f2" stroke="#c9ced6" stroke-width="0.5"/>
<circle cx="691.0" cy="94.0" r="3.4" fill="#eeeff1" stroke="#c9ced6" stroke-width="0.5"/>
<circle cx="635.0" cy="134.7" r="2.7" fill="#f3f3f4" stroke="#c9ced6" stroke-width="0.5"/>
<circle cx="669.1" cy="63.3" r="4.0" fill="#f1f1f2" stroke="#c9ced6" stroke-width="0.5"/>
<circle cx="669.4" cy="49.6" r="4.0" fill="#f3f3f4" stroke="#c9ced6" stroke-width="0.5"/>
<circle cx="551.7" cy="175.2" r="3.2" fill="#f1f1f2" stroke="#c9ced6" stroke-width="0.5"/>
<circle cx="539.3" cy="164.1" r="3.6" fill="#f0f0f1" stroke="#c9ced6" stroke-width="0.5"/>
<circle cx="532.6" cy="144.3" r="3.2" fill="#eeeef0" stroke="#c9ced6" stroke-width="0.5"/>
<circle cx="540.9" cy="155.3" r="3.7" fill="#f0f0f1" stroke="#c9ced6" stroke-width="0.5"/>
<circle cx="559.4" cy="61.8" r="2.6" fill="#f0f0f1" stroke="#c9ced6" stroke-width="0.5"/>
<circle cx="557.2" cy="89.5" r="4.2" fill="#f0f0f1" stroke="#c9ced6" stroke-width="0.5"/>
<circle cx="582.0" cy="44.4" r="3.8" fill="#f0f0f1" stroke="#c9ced6" stroke-width="0.5"/>
<circle cx="543.9" cy="103.5" r="3.4" fill="#f0f0f1" stroke="#c9ced6" stroke-width="0.5"/>
<circle cx="536.4" cy="127.7" r="3.6" fill="#f0f0f1" stroke="#c9ced6" stroke-width="0.5"/>
<circle cx="569.1" cy="76.1" r="3.7" fill="#f0f0f1" stroke="#c9ced6" stroke-width="0.5"/>
<circle cx="556.9" cy="80.0" r="2.6" fill="#f0f0f1" stroke="#c9ced6" stroke-width="0.5"/>
<circle cx="568.2" cy="94.7" r="3.6" fill="#f0f0f1" stroke="#c9ced6" stroke-width="0.5"/>
<circle cx="544.1" cy="133.4" r="2.9" fill="#eeeef0" stroke="#c9ced6" stroke-width="0.5"/>
<circle cx="567.4" cy="67.9" r="3.3" fill="#eeeef0" stroke="#c9ced6" stroke-width="0.5"/>
<circle cx="583.7" cy="51.9" r="3.4" fill="#eeeef0" stroke="#c9ced6" stroke-width="0.5"/>
<circle cx="565.5" cy="51.7" r="2.6" fill="#eeeef0" stroke="#c9ced6" stroke-width="0.5"/>
<circle cx="555.3" cy="106.6" r="3.6" fill="#eeeef0" stroke="#c9ced6" stroke-width="0.5"/>
<circle cx="543.8" cy="158.1" r="3.3" fill="#f0f0f1" stroke="#c9ced6" stroke-width="0.5"/>
<circle cx="537.3" cy="167.2" r="3.7" fill="#eeeef0" stroke="#c9ced6" stroke-width="0.5"/>
<circle cx="598.5" cy="1.3" r="3.8" fill="#eeeef0" stroke="#c9ced6" stroke-width="0.5"/>
<circle cx="533.8" cy="163.1" r="3.7" fill="#eeeef0" stroke="#c9ced6" stroke-width="0.5"/>
<circle cx="529.9" cy="162.9" r="3.8" fill="#f0f0f1" stroke="#c9ced6" stroke-width="0.5"/>
<circle cx="536.4" cy="170.9" r="3.2" fill="#eeeef0" stroke="#c9ced6" stroke-width="0.5"/>
<circle cx="580.9" cy="51.1" r="2.6" fill="#f0f0f1" stroke="#c9ced6" stroke-width="0.5"/>
<circle cx="566.4" cy="118.1" r="2.7" fill="#f0f0f1" stroke="#c9ced6" stroke-width="0.5"/>
<circle cx="563.7" cy="59.2" r="3.8" fill="#eeeef0" stroke="#c9ced6" stroke-width="0.5"/>
<circle cx="546.2" cy="100.7" r="2.5" fill="#bec6d0"/>
<circle cx="557.4" cy="131.5" r="1.9" fill="#b3bdca"/>
<circle cx="565.5" cy="103.8" r="1.7" fill="#bec6d0"/>
<circle cx="570.5" cy="82.9" r="2.1" fill="#a8b5c5"/>
<circle cx="530.6" cy="137.0" r="1.7" fill="#a0b0c3"/>
<circle cx="581.0" cy="54.2" r="1.8" fill="#b3bdca"/>
<circle cx="570.5" cy="77.6" r="2.4" fill="#a8b5c5"/>
<circle cx="575.4" cy="68.9" r="1.9" fill="#adb8c6"/>
<circle cx="560.0" cy="114.7" r="1.7" fill="#a0b0c3"/>
<circle cx="567.8" cy="119.0" r="2.1" fill="#b3bdca"/>
<circle cx="556.3" cy="87.3" r="2.3" fill="#bec6d0"/>
<circle cx="555.6" cy="70.4" r="1.7" fill="#b3bdca"/>
<circle cx="551.0" cy="144.5" r="1.9" fill="#a0b0c3"/>
<circle cx="605.9" cy="10.5" r="1.7" fill="#adb8c6"/>
<circle cx="539.7" cy="164.8" r="2.4" fill="#a8b5c5"/>
<circle cx="551.0" cy="127.9" r="2.5" fill="#b3bdca"/>
<circle cx="557.2" cy="135.5" r="2.0" fill="#bec6d0"/>
<circle cx="563.1" cy="57.6" r="2.4" fill="#bec6d0"/>
<circle cx="528.6" cy="162.0" r="1.9" fill="#a8b5c5"/>
<circle cx="578.5" cy="46.9" r="2.3" fill="#b3bdca"/>
<circle cx="528.9" cy="145.6" r="1.8" fill="#bec6d0"/>
<circle cx="539.4" cy="141.4" r="2.4" fill="#a0b0c3"/>
<circle cx="577.6" cy="58.4" r="2.0" fill="#b3bdca"/>
<circle cx="569.0" cy="69.5" r="1.8" fill="#bec6d0"/>
<circle cx="572.7" cy="58.0" r="2.6" fill="#a8b5c5"/>
<circle cx="560.5" cy="109.6" r="2.3" fill="#adb8c6"/>
<circle cx="533.9" cy="148.2" r="2.0" fill="#adb8c6"/>
<circle cx="570.3" cy="114.7" r="1.8" fill="#bec6d0"/>
<circle cx="546.4" cy="137.1" r="2.6" fill="#a8b5c5"/>
<circle cx="559.8" cy="66.1" r="2.3" fill="#a8b5c5"/>
<circle cx="541.3" cy="140.2" r="2.2" fill="#a8b5c5"/>
<circle cx="582.7" cy="28.0" r="2.2" fill="#a0b0c3"/>
<circle cx="580.9" cy="69.4" r="2.1" fill="#a8b5c5"/>
<circle cx="574.9" cy="64.8" r="2.4" fill="#a0b0c3"/>
<circle cx="556.3" cy="89.3" r="1.8" fill="#b3bdca"/>
<circle cx="598.3" cy="8.6" r="2.5" fill="#b3bdca"/>
<circle cx="527.8" cy="163.1" r="2.0" fill="#adb8c6"/>
<circle cx="540.3" cy="155.7" r="2.5" fill="#a8b5c5"/>
<circle cx="583.0" cy="57.7" r="2.1" fill="#bec6d0"/>
<circle cx="575.4" cy="75.5" r="2.3" fill="#bec6d0"/>
<circle cx="523.3" cy="173.6" r="2.1" fill="#bec6d0"/>
<circle cx="568.3" cy="67.1" r="2.6" fill="#a0b0c3"/>
<circle cx="542.9" cy="146.8" r="2.2" fill="#b3bdca"/>
<circle cx="537.3" cy="157.9" r="1.9" fill="#bec6d0"/>
<circle cx="593.6" cy="21.1" r="2.2" fill="#b3bdca"/>
<circle cx="556.8" cy="65.6" r="1.8" fill="#b3bdca"/>
<circle cx="538.9" cy="131.1" r="1.7" fill="#adb8c6"/>
<circle cx="545.8" cy="112.9" r="2.6" fill="#adb8c6"/>
<circle cx="579.2" cy="74.1" r="2.0" fill="#a8b5c5"/>
<circle cx="543.2" cy="103.1" r="2.2" fill="#a0b0c3"/>
<circle cx="547.3" cy="143.0" r="2.6" fill="#a8b5c5"/>
<circle cx="554.5" cy="114.0" r="2.1" fill="#adb8c6"/>
<circle cx="604.2" cy="8.7" r="2.2" fill="#bec6d0"/>
<circle cx="605.0" cy="19.4" r="2.3" fill="#a0b0c3"/>
<circle cx="577.7" cy="89.7" r="2.3" fill="#adb8c6"/>
<circle cx="546.9" cy="97.9" r="2.1" fill="#adb8c6"/>
<circle cx="538.3" cy="159.3" r="2.5" fill="#a0b0c3"/>
<circle cx="576.1" cy="64.6" r="2.4" fill="#adb8c6"/>
<circle cx="603.1" cy="12.5" r="2.5" fill="#bec6d0"/>
<circle cx="579.8" cy="51.3" r="1.8" fill="#a8b5c5"/>
<circle cx="606.6" cy="9.5" r="2.4" fill="#b3bdca"/>
<circle cx="565.8" cy="51.3" r="2.4" fill="#bec6d0"/>
<circle cx="574.7" cy="51.2" r="2.1" fill="#adb8c6"/>
<circle cx="541.2" cy="134.4" r="2.6" fill="#a8b5c5"/>
<circle cx="581.1" cy="66.1" r="2.0" fill="#bec6d0"/>
<circle cx="537.0" cy="148.5" r="2.3" fill="#b3bdca"/>
<circle cx="532.2" cy="169.4" r="1.8" fill="#bec6d0"/>
<circle cx="544.8" cy="150.3" r="2.3" fill="#adb8c6"/>
<circle cx="543.5" cy="127.4" r="2.5" fill="#adb8c6"/>
<circle cx="580.7" cy="80.4" r="2.0" fill="#a8b5c5"/>
<circle cx="656.2" cy="59.6" r="2.1" fill="#a8b5c5"/>
<circle cx="642.6" cy="94.5" r="2.5" fill="#a0b0c3"/>
<circle cx="582.5" cy="136.8" r="1.9" fill="#b3bdca"/>
<circle cx="630.6" cy="137.0" r="2.3" fill="#b3bdca"/>
<circle cx="627.7" cy="94.6" r="1.9" fill="#a0b0c3"/>
<circle cx="608.5" cy="143.3" r="2.6" fill="#b3bdca"/>
<circle cx="645.0" cy="72.8" r="1.8" fill="#a8b5c5"/>
<circle cx="612.4" cy="96.0" r="2.0" fill="#b3bdca"/>
<circle cx="609.7" cy="169.6" r="2.6" fill="#bec6d0"/>
<circle cx="688.5" cy="47.5" r="1.9" fill="#adb8c6"/>
<circle cx="611.6" cy="175.5" r="2.3" fill="#bec6d0"/>
<circle cx="602.9" cy="155.4" r="2.0" fill="#b3bdca"/>
<circle cx="621.8" cy="149.2" r="2.0" fill="#b3bdca"/>
<circle cx="642.9" cy="49.8" r="1.8" fill="#b3bdca"/>
<circle cx="677.3" cy="45.9" r="2.5" fill="#a0b0c3"/>
<circle cx="629.1" cy="85.6" r="2.3" fill="#a0b0c3"/>
<circle cx="575.0" cy="161.0" r="2.4" fill="#adb8c6"/>
<circle cx="629.1" cy="140.4" r="2.5" fill="#adb8c6"/>
<circle cx="673.2" cy="103.3" r="2.1" fill="#a0b0c3"/>
<circle cx="639.3" cy="139.4" r="2.0" fill="#adb8c6"/>
<circle cx="624.1" cy="79.0" r="2.1" fill="#a8b5c5"/>
<circle cx="600.9" cy="145.4" r="2.5" fill="#b3bdca"/>
<circle cx="614.8" cy="96.3" r="2.4" fill="#b3bdca"/>
<circle cx="602.9" cy="106.1" r="2.6" fill="#adb8c6"/>
<circle cx="569.0" cy="172.2" r="2.6" fill="#bec6d0"/>
<circle cx="578.3" cy="165.2" r="2.3" fill="#adb8c6"/>
<circle cx="641.9" cy="124.5" r="2.2" fill="#a8b5c5"/>
<circle cx="618.2" cy="143.2" r="1.9" fill="#a8b5c5"/>
<circle cx="624.2" cy="110.1" r="2.4" fill="#bec6d0"/>
<circle cx="607.7" cy="119.7" r="2.6" fill="#bec6d0"/>
<circle cx="664.7" cy="113.7" r="2.1" fill="#a0b0c3"/>
<circle cx="643.4" cy="96.9" r="2.3" fill="#a8b5c5"/>
<circle cx="620.4" cy="76.0" r="2.1" fill="#a0b0c3"/>
<circle cx="687.5" cy="88.5" r="2.3" fill="#a0b0c3"/>
<circle cx="658.7" cy="49.6" r="2.3" fill="#bec6d0"/>
<circle cx="652.3" cy="123.3" r="2.0" fill="#adb8c6"/>
<circle cx="574.7" cy="156.8" r="1.8" fill="#b3bdca"/>
<circle cx="694.0" cy="54.1" r="1.8" fill="#bec6d0"/>
<circle cx="621.1" cy="145.4" r="1.9" fill="#adb8c6"/>
<circle cx="642.7" cy="127.8" r="2.2" fill="#adb8c6"/>
<circle cx="572.5" cy="152.9" r="2.6" fill="#a0b0c3"/>
<circle cx="606.1" cy="132.5" r="2.5" fill="#bec6d0"/>
<circle cx="637.4" cy="150.6" r="1.7" fill="#a0b0c3"/>
<circle cx="635.2" cy="75.8" r="2.4" fill="#bec6d0"/>
<circle cx="632.5" cy="148.0" r="2.4" fill="#a0b0c3"/>
<circle cx="608.9" cy="135.8" r="2.2" fill="#a8b5c5"/>
<circle cx="668.0" cy="101.4" r="2.4" fill="#a8b5c5"/>
<circle cx="627.8" cy="103.8" r="1.9" fill="#a0b0c3"/>
<circle cx="593.2" cy="117.7" r="2.4" fill="#a0b0c3"/>
<circle cx="586.7" cy="165.3" r="2.5" fill="#b3bdca"/>
<circle cx="601.4" cy="109.7" r="1.7" fill="#adb8c6"/>
<circle cx="622.5" cy="116.3" r="2.4" fill="#bec6d0"/>
<circle cx="638.4" cy="122.0" r="2.5" fill="#b3bdca"/>
<circle cx="633.0" cy="158.2" r="2.6" fill="#a8b5c5"/>
<circle cx="687.2" cy="107.9" r="2.5" fill="#b3bdca"/>
<circle cx="674.7" cy="44.5" r="2.3" fill="#bec6d0"/>
<circle cx="650.9" cy="79.2" r="2.4" fill="#a8b5c5"/>
<circle cx="620.1" cy="89.3" r="2.0" fill="#bec6d0"/>
<circle cx="688.2" cy="68.4" r="2.5" fill="#a0b0c3"/>
<circle cx="688.0" cy="91.1" r="1.8" fill="#b3bdca"/>
<circle cx="599.5" cy="139.6" r="2.1" fill="#a0b0c3"/>
<circle cx="594.2" cy="149.0" r="1.8" fill="#bec6d0"/>
<circle cx="684.6" cy="53.8" r="1.8" fill="#a0b0c3"/>
<circle cx="633.4" cy="153.3" r="2.4" fill="#b3bdca"/>
<circle cx="608.1" cy="95.4" r="2.4" fill="#b3bdca"/>
<circle cx="615.9" cy="108.1" r="2.1" fill="#adb8c6"/>
<circle cx="675.7" cy="110.0" r="1.9" fill="#adb8c6"/>
<circle cx="640.7" cy="106.4" r="1.9" fill="#adb8c6"/>
<circle cx="649.8" cy="124.7" r="2.0" fill="#a8b5c5"/>
<circle cx="610.8" cy="137.6" r="2.4" fill="#b3bdca"/>
<circle cx="592.0" cy="126.2" r="1.8" fill="#bec6d0"/>
<circle cx="685.6" cy="103.8" r="1.9" fill="#a0b0c3"/>
<circle cx="635.7" cy="156.4" r="2.5" fill="#adb8c6"/>
<circle cx="586.5" cy="152.5" r="2.4" fill="#bec6d0"/>
<circle cx="658.9" cy="99.6" r="2.4" fill="#a0b0c3"/>
<circle cx="639.3" cy="117.6" r="2.3" fill="#a8b5c5"/>
<circle cx="619.3" cy="118.9" r="1.8" fill="#a8b5c5"/>
<circle cx="661.2" cy="60.7" r="2.5" fill="#bec6d0"/>
<circle cx="653.4" cy="120.4" r="1.7" fill="#a8b5c5"/>
<circle cx="676.3" cy="45.4" r="2.6" fill="#b3bdca"/>
<circle cx="644.3" cy="88.3" r="1.8" fill="#bec6d0"/>
<circle cx="609.2" cy="175.7" r="1.7" fill="#a8b5c5"/>
<circle cx="589.6" cy="131.6" r="2.2" fill="#a8b5c5"/>
<circle cx="642.6" cy="72.6" r="2.1" fill="#a8b5c5"/>
<circle cx="646.5" cy="54.6" r="2.6" fill="#adb8c6"/>
<circle cx="684.3" cy="49.7" r="2.5" fill="#bec6d0"/>
<circle cx="675.1" cy="122.2" r="2.3" fill="#a0b0c3"/>
<circle cx="631.7" cy="88.6" r="2.0" fill="#bec6d0"/>
<circle cx="619.9" cy="80.8" r="1.9" fill="#adb8c6"/>
<circle cx="609.1" cy="165.5" r="2.6" fill="#b3bdca"/>
<circle cx="632.9" cy="105.8" r="2.6" fill="#b3bdca"/>
<circle cx="632.1" cy="121.6" r="2.3" fill="#adb8c6"/>
<circle cx="607.8" cy="98.7" r="1.8" fill="#a0b0c3"/>
<circle cx="689.2" cy="95.5" r="1.8" fill="#a0b0c3"/>
<circle cx="672.4" cy="109.5" r="2.4" fill="#bec6d0"/>
<circle cx="590.0" cy="125.0" r="2.3" fill="#bec6d0"/>
<circle cx="664.1" cy="118.8" r="2.6" fill="#adb8c6"/>
<circle cx="572.3" cy="155.3" r="2.3" fill="#a8b5c5"/>
<circle cx="606.6" cy="100.4" r="2.4" fill="#b3bdca"/>
<circle cx="602.6" cy="110.6" r="2.3" fill="#a8b5c5"/>
<circle cx="624.4" cy="99.3" r="2.0" fill="#a0b0c3"/>
<circle cx="614.9" cy="90.0" r="2.4" fill="#b3bdca"/>
<circle cx="598.3" cy="154.4" r="2.6" fill="#a0b0c3"/>
<circle cx="588.2" cy="161.6" r="2.2" fill="#b3bdca"/>
<circle cx="627.1" cy="109.4" r="2.1" fill="#b3bdca"/>
<circle cx="611.0" cy="107.1" r="2.5" fill="#a0b0c3"/>
<circle cx="622.5" cy="98.7" r="2.6" fill="#b3bdca"/>
<circle cx="647.7" cy="78.7" r="2.5" fill="#adb8c6"/>
<circle cx="682.3" cy="96.1" r="2.0" fill="#adb8c6"/>
<circle cx="581.0" cy="161.3" r="1.8" fill="#adb8c6"/>
<circle cx="584.5" cy="34" r="4.3" fill="#a2b3c7"/>
<circle cx="597" cy="9" r="3.5" fill="#a2b3c7"/>
<circle cx="604" cy="5" r="3.2" fill="#a2b3c7"/>
<circle cx="567" cy="66" r="3.5" fill="#a2b3c7"/>
<circle cx="545" cy="100" r="3.2" fill="#a2b3c7"/>
<circle cx="610" cy="150" r="4" fill="#a2b3c7"/>
<circle cx="626" cy="140" r="3.6" fill="#a2b3c7"/>
<circle cx="598" cy="160" r="3.8" fill="#a2b3c7"/>
<circle cx="640" cy="120" r="3.2" fill="#a2b3c7"/>
<circle cx="693.5" cy="24.5" r="2.6" fill="#a2b3c7"/>
<circle cx="693" cy="16" r="2.4" fill="#a2b3c7"/>
<circle cx="631.5" cy="24.7" r="2.3" fill="#98abc2"/>
<circle cx="630.6" cy="31.5" r="2.3" fill="#98abc2"/>
<circle cx="607.7" cy="49.3" r="2.3" fill="#98abc2"/>
<circle cx="606" cy="54.4" r="2.3" fill="#98abc2"/>
<circle cx="605.1" cy="59.5" r="2.3" fill="#98abc2"/>
<circle cx="634.9" cy="5.1" r="2.3" fill="#98abc2"/>
<circle cx="589.3" cy="13.6" r="2.4" fill="#94694c"/><circle cx="589.0" cy="13.299999999999999" r="1.4" fill="#7b5438"/>
<circle cx="593.2" cy="22.7" r="2.4" fill="#94694c"/><circle cx="592.9000000000001" cy="22.4" r="1.4" fill="#7b5438"/>
<circle cx="594.1" cy="31.8" r="2.4" fill="#94694c"/><circle cx="593.8000000000001" cy="31.5" r="1.4" fill="#7b5438"/>
<circle cx="576.5" cy="45.5" r="2.4" fill="#94694c"/><circle cx="576.2" cy="45.2" r="1.4" fill="#7b5438"/>
<circle cx="559.9" cy="60.6" r="2.4" fill="#94694c"/><circle cx="559.6" cy="60.300000000000004" r="1.4" fill="#7b5438"/>
<circle cx="576.5" cy="63.6" r="2.4" fill="#94694c"/><circle cx="576.2" cy="63.300000000000004" r="1.4" fill="#7b5438"/>
<circle cx="556.8" cy="81.8" r="2.4" fill="#94694c"/><circle cx="556.5" cy="81.5" r="1.4" fill="#7b5438"/>
<circle cx="569" cy="80.3" r="2.4" fill="#94694c"/><circle cx="568.7" cy="80.0" r="1.4" fill="#7b5438"/>
<circle cx="561.4" cy="87.9" r="2.4" fill="#94694c"/><circle cx="561.1" cy="87.60000000000001" r="1.4" fill="#7b5438"/>
<circle cx="558.4" cy="100" r="2.4" fill="#94694c"/><circle cx="558.1" cy="99.7" r="1.4" fill="#7b5438"/>
<circle cx="575" cy="106.7" r="2.4" fill="#94694c"/><circle cx="574.7" cy="106.4" r="1.4" fill="#7b5438"/>
<circle cx="579.6" cy="97" r="2.4" fill="#94694c"/><circle cx="579.3000000000001" cy="96.7" r="1.4" fill="#7b5438"/>
<circle cx="552.3" cy="112.1" r="2.4" fill="#94694c"/><circle cx="552.0" cy="111.8" r="1.4" fill="#7b5438"/>
<circle cx="540.2" cy="127.3" r="2.4" fill="#94694c"/><circle cx="539.9000000000001" cy="127.0" r="1.4" fill="#7b5438"/>
<circle cx="535.6" cy="136.4" r="2.4" fill="#94694c"/><circle cx="535.3000000000001" cy="136.1" r="1.4" fill="#7b5438"/>
<circle cx="561.4" cy="131.8" r="2.4" fill="#94694c"/><circle cx="561.1" cy="131.5" r="1.4" fill="#7b5438"/>
<circle cx="528.1" cy="157.6" r="2.4" fill="#94694c"/><circle cx="527.8000000000001" cy="157.29999999999998" r="1.4" fill="#7b5438"/>
<circle cx="532.6" cy="168.2" r="2.4" fill="#94694c"/><circle cx="532.3000000000001" cy="167.89999999999998" r="1.4" fill="#7b5438"/>
<circle cx="647.8" cy="25.8" r="2.4" fill="#94694c"/><circle cx="647.5" cy="25.5" r="1.4" fill="#7b5438"/>
<circle cx="647.8" cy="36.4" r="2.4" fill="#94694c"/><circle cx="647.5" cy="36.1" r="1.4" fill="#7b5438"/>
<circle cx="688.7" cy="47.9" r="2.4" fill="#94694c"/><circle cx="688.4000000000001" cy="47.6" r="1.4" fill="#7b5438"/>
<circle cx="620.5" cy="65.2" r="2.4" fill="#94694c"/><circle cx="620.2" cy="64.9" r="1.4" fill="#7b5438"/>
<circle cx="641.7" cy="72.7" r="2.4" fill="#94694c"/><circle cx="641.4000000000001" cy="72.4" r="1.4" fill="#7b5438"/>
<circle cx="619" cy="89.4" r="2.4" fill="#94694c"/><circle cx="618.7" cy="89.10000000000001" r="1.4" fill="#7b5438"/>
<circle cx="632.6" cy="97" r="2.4" fill="#94694c"/><circle cx="632.3000000000001" cy="96.7" r="1.4" fill="#7b5438"/>
<circle cx="641.7" cy="100" r="2.4" fill="#94694c"/><circle cx="641.4000000000001" cy="99.7" r="1.4" fill="#7b5438"/>
<circle cx="622" cy="110.6" r="2.4" fill="#94694c"/><circle cx="621.7" cy="110.3" r="1.4" fill="#7b5438"/>
<circle cx="673.5" cy="110.6" r="2.4" fill="#94694c"/><circle cx="673.2" cy="110.3" r="1.4" fill="#7b5438"/>
<circle cx="688.1" cy="106.1" r="2.4" fill="#94694c"/><circle cx="687.8000000000001" cy="105.8" r="1.4" fill="#7b5438"/>
<circle cx="690.2" cy="74.2" r="2.4" fill="#94694c"/><circle cx="689.9000000000001" cy="73.9" r="1.4" fill="#7b5438"/>
<circle cx="634.1" cy="127.3" r="2.4" fill="#94694c"/><circle cx="633.8000000000001" cy="127.0" r="1.4" fill="#7b5438"/>
<circle cx="635.6" cy="154.5" r="2.4" fill="#94694c"/><circle cx="635.3000000000001" cy="154.2" r="1.4" fill="#7b5438"/>
<circle cx="615.9" cy="157.6" r="2.4" fill="#94694c"/><circle cx="615.6" cy="157.29999999999998" r="1.4" fill="#7b5438"/>
<circle cx="599.3" cy="69.7" r="2.4" fill="#94694c"/><circle cx="599.0" cy="69.4" r="1.4" fill="#7b5438"/>
<circle cx="670.5" cy="78.2" r="2.4" fill="#94694c"/><circle cx="670.2" cy="77.9" r="1.4" fill="#7b5438"/>
<circle cx="566" cy="78.1" r="2.4" fill="#94694c"/><circle cx="565.7" cy="77.8" r="1.4" fill="#7b5438"/>
<circle cx="576.1" cy="63" r="2.4" fill="#94694c"/><circle cx="575.8000000000001" cy="62.7" r="1.4" fill="#7b5438"/>
<circle cx="585.1" cy="85.1" r="2.4" fill="#94694c"/><circle cx="584.8000000000001" cy="84.8" r="1.4" fill="#7b5438"/>
<circle cx="562" cy="95.1" r="2.4" fill="#94694c"/><circle cx="561.7" cy="94.8" r="1.4" fill="#7b5438"/>
<circle cx="572" cy="154.4" r="2.4" fill="#94694c"/><circle cx="571.7" cy="154.1" r="1.4" fill="#7b5438"/>
<circle cx="562" cy="164.4" r="2.4" fill="#94694c"/><circle cx="561.7" cy="164.1" r="1.4" fill="#7b5438"/>
<circle cx="580.1" cy="97.1" r="2.4" fill="#94694c"/><circle cx="579.8000000000001" cy="96.8" r="1.4" fill="#7b5438"/>
<circle cx="624.3" cy="108.2" r="2.4" fill="#94694c"/><circle cx="624.0" cy="107.9" r="1.4" fill="#7b5438"/>
<circle cx="634.3" cy="104.2" r="2.4" fill="#94694c"/><circle cx="634.0" cy="103.9" r="1.4" fill="#7b5438"/>
<circle cx="547" cy="120" r="2.4" fill="#94694c"/><circle cx="546.7" cy="119.7" r="1.4" fill="#7b5438"/>
<circle cx="568" cy="72" r="2.4" fill="#94694c"/><circle cx="567.7" cy="71.7" r="1.4" fill="#7b5438"/>
<circle cx="583" cy="52" r="2.4" fill="#94694c"/><circle cx="582.7" cy="51.7" r="1.4" fill="#7b5438"/>
</g>
<text x="530" y="18.7" font-size="16.8" font-weight="bold" fill="#000">d</text>
<rect x="630.4" y="165.1" width="62.9" height="3.6" fill="#000"/>
<text x="662" y="160.6" font-size="11" text-anchor="middle" fill="#111">100 µm</text>
<text x="529.2" y="194.8" font-size="16.8" font-weight="bold" fill="#000">e</text>
<line x1="570" y1="184.4" x2="570" y2="380.6" stroke="#1f1f1f" stroke-width="1.4"/>
<line x1="569.3" y1="379.9" x2="691.6" y2="379.9" stroke="#1f1f1f" stroke-width="1.4"/>
<text x="563.4" y="189.8" font-size="10.8" text-anchor="end" fill="#111">100</text>
<text x="563.4" y="238.4" font-size="10.8" text-anchor="end" fill="#111">75</text>
<text x="563.4" y="287.0" font-size="10.8" text-anchor="end" fill="#111">50</text>
<text x="563.4" y="335.6" font-size="10.8" text-anchor="end" fill="#111">25</text>
<text x="602.9" y="199.1" font-size="11.4" font-weight="bold" text-anchor="middle" fill="#111">n = 57</text>
<text x="658.4" y="199.1" font-size="11.4" font-weight="bold" text-anchor="middle" fill="#111">n = 5</text>
<path d="M602.9 220.6V214H658.6" stroke="#1f1f1f" stroke-width="1.3" fill="none"/>
<path d="M627.80 206.70 L628.45 208.41 L630.27 208.50 L628.85 209.64 L629.33 211.40 L627.80 210.40 L626.27 211.40 L626.75 209.64 L625.33 208.50 L627.15 208.41Z" fill="#111"/>
<path d="M633.50 206.70 L634.15 208.41 L635.97 208.50 L634.55 209.64 L635.03 211.40 L633.50 210.40 L631.97 211.40 L632.45 209.64 L631.03 208.50 L632.85 208.41Z" fill="#111"/>
<line x1="602.9" y1="347.4" x2="602.9" y2="380" stroke="#333" stroke-width="1.1"/>
<rect x="582.7" y="362.3" width="41" height="8.6" fill="#6fcdb6" stroke="#333" stroke-width="1.2"/>
<line x1="582.7" y1="366.6" x2="623.7" y2="366.6" stroke="#333" stroke-width="2.4"/>
<circle cx="602.9" cy="347.4" r="3.1" fill="#333"/>
<circle cx="602.9" cy="320.7" r="3.1" fill="#333"/>
<circle cx="658.6" cy="216.9" r="3.1" fill="#333"/>
<circle cx="658.3" cy="298.8" r="3.1" fill="#333"/>
<rect x="637.6" y="273" width="41.6" height="7.2" fill="#2b6cbf" stroke="#2a2a2a" stroke-width="1.3"/>
<line x1="637.6" y1="277.6" x2="679.2" y2="277.6" stroke="#2a2a2a" stroke-width="2.7"/>
<text x="603" y="395.1" font-size="11" text-anchor="middle" fill="#111">Blastocyst</text>
<text x="657.9" y="395.1" font-size="11" text-anchor="middle" fill="#111">Elongating</text>
<text transform="translate(539.3,281) rotate(-90)" font-size="11" text-anchor="middle" fill="#111">% of Ki67 positive Nuclei</text>
<rect x="523.1" y="411.1" width="176" height="176" fill="#000"/>
<path d="M581.3 418.2C584.3 417.3 589.2 418.8 593.0 419.5C596.8 420.2 599.7 420.6 604.3 422.3C608.9 424.0 615.8 426.8 620.7 429.7C625.6 432.6 629.4 435.5 633.8 439.6C638.2 443.7 643.2 448.8 647.0 454.3C650.8 459.8 654.3 466.4 656.8 472.4C659.3 478.3 661.1 484.1 662.1 490.0C663.1 495.9 663.0 501.9 663.0 507.9C663.0 513.9 662.5 520.4 662.1 525.7C661.7 531.1 661.6 535.5 660.4 540.0C659.2 544.5 657.4 548.6 655.0 552.5C652.6 556.4 649.4 559.9 646.1 563.2C642.8 566.5 639.0 569.4 635.4 572.1C631.8 574.8 628.3 577.5 624.6 579.3C620.9 581.1 616.8 582.8 613.0 583.0C609.2 583.2 604.5 581.4 602.0 580.5C599.5 579.6 600.4 579.5 597.9 577.5C595.4 575.5 590.4 572.2 587.1 568.6C583.8 565.0 580.9 560.6 578.2 556.1C575.5 551.6 573.2 546.9 571.1 541.8C569.0 536.7 567.1 531.4 565.7 525.7C564.4 520.1 563.6 513.9 563.0 507.9C562.4 501.9 562.1 494.8 562.3 490.0C562.5 485.2 563.3 484.1 564.0 479.0C564.7 473.9 565.5 465.3 566.5 459.3C567.5 453.3 568.4 448.6 569.8 442.8C571.2 437.1 572.8 428.9 574.7 424.8C576.6 420.7 578.2 419.1 581.3 418.2Z" fill="#100a0a"/>
<filter id="fb" x="-5%" y="-5%" width="110%" height="110%"><feGaussianBlur stdDeviation="0.35"/></filter><g filter="url(#fb)">
<circle cx="581.5" cy="420.6" r="1.14" fill="rgb(140,134,134)"/>
<circle cx="578.2" cy="424.3" r="1.18" fill="rgb(143,137,137)"/>
<circle cx="584.4" cy="422.5" r="1.06" fill="rgb(143,137,137)"/>
<circle cx="587.5" cy="423.2" r="0.99" fill="rgb(131,125,125)"/>
<circle cx="594.1" cy="423.0" r="1.12" fill="#c04050"/>
<circle cx="602.9" cy="424.0" r="1.08" fill="rgb(145,139,139)"/>
<circle cx="580.9" cy="427.5" r="1.34" fill="#e86070"/>
<circle cx="585.0" cy="427.0" r="0.97" fill="rgb(87,81,81)"/>
<circle cx="590.6" cy="427.3" r="1.19" fill="rgb(115,109,109)"/>
<circle cx="594.3" cy="427.3" r="1.34" fill="rgb(72,66,66)"/>
<circle cx="598.9" cy="427.3" r="1.02" fill="rgb(110,104,104)"/>
<circle cx="603.4" cy="428.1" r="1.07" fill="rgb(103,97,97)"/>
<circle cx="608.7" cy="428.1" r="1.07" fill="#e0505f"/>
<circle cx="612.9" cy="428.2" r="1.22" fill="rgb(93,87,87)"/>
<circle cx="579.0" cy="431.4" r="1.12" fill="rgb(107,101,101)"/>
<circle cx="582.4" cy="432.6" r="1.14" fill="#d04858"/>
<circle cx="588.3" cy="431.8" r="1.33" fill="rgb(141,135,135)"/>
<circle cx="593.3" cy="430.7" r="1.34" fill="rgb(136,130,130)"/>
<circle cx="596.9" cy="432.6" r="1.34" fill="rgb(145,139,139)"/>
<circle cx="600.4" cy="430.8" r="1.31" fill="#e0505f"/>
<circle cx="607.3" cy="431.7" r="1.02" fill="#d04858"/>
<circle cx="610.3" cy="431.9" r="0.97" fill="rgb(122,116,116)"/>
<circle cx="616.8" cy="430.4" r="1.27" fill="#e86070"/>
<circle cx="574.4" cy="436.2" r="1.08" fill="rgb(132,126,126)"/>
<circle cx="579.9" cy="435.1" r="1.07" fill="rgb(145,139,139)"/>
<circle cx="584.5" cy="436.9" r="1.17" fill="rgb(86,80,80)"/>
<circle cx="590.4" cy="435.2" r="0.97" fill="#e0505f"/>
<circle cx="594.4" cy="436.0" r="1.20" fill="rgb(75,69,69)"/>
<circle cx="599.0" cy="435.2" r="1.12" fill="rgb(110,104,104)"/>
<circle cx="604.5" cy="435.4" r="1.06" fill="rgb(138,132,132)"/>
<circle cx="608.9" cy="436.4" r="1.30" fill="rgb(86,80,80)"/>
<circle cx="614.6" cy="435.2" r="1.00" fill="rgb(103,97,97)"/>
<circle cx="618.6" cy="436.8" r="1.27" fill="rgb(137,131,131)"/>
<circle cx="623.2" cy="436.2" r="1.27" fill="rgb(83,77,77)"/>
<circle cx="576.7" cy="439.8" r="1.02" fill="rgb(142,136,136)"/>
<circle cx="581.3" cy="441.0" r="1.20" fill="rgb(128,122,122)"/>
<circle cx="587.9" cy="439.3" r="1.33" fill="rgb(120,114,114)"/>
<circle cx="592.1" cy="441.0" r="1.34" fill="rgb(100,94,94)"/>
<circle cx="596.4" cy="440.3" r="1.01" fill="#e86070"/>
<circle cx="601.0" cy="440.7" r="1.25" fill="#e86070"/>
<circle cx="607.2" cy="439.7" r="1.00" fill="rgb(93,87,87)"/>
<circle cx="611.4" cy="438.7" r="1.29" fill="rgb(99,93,93)"/>
<circle cx="615.5" cy="440.4" r="1.19" fill="rgb(122,116,116)"/>
<circle cx="620.3" cy="441.0" r="0.96" fill="rgb(109,103,103)"/>
<circle cx="624.7" cy="439.3" r="1.05" fill="rgb(116,110,110)"/>
<circle cx="629.5" cy="440.7" r="1.23" fill="rgb(131,125,125)"/>
<circle cx="576.1" cy="442.7" r="1.31" fill="rgb(74,68,68)"/>
<circle cx="579.4" cy="444.8" r="0.99" fill="rgb(124,118,118)"/>
<circle cx="585.6" cy="442.7" r="0.96" fill="rgb(107,101,101)"/>
<circle cx="589.3" cy="444.4" r="1.08" fill="rgb(73,67,67)"/>
<circle cx="594.0" cy="443.7" r="1.25" fill="rgb(144,138,138)"/>
<circle cx="598.8" cy="442.7" r="0.98" fill="rgb(105,99,99)"/>
<circle cx="603.4" cy="443.6" r="0.99" fill="rgb(102,96,96)"/>
<circle cx="609.5" cy="443.4" r="1.07" fill="rgb(127,121,121)"/>
<circle cx="613.4" cy="444.2" r="0.99" fill="rgb(103,97,97)"/>
<circle cx="618.9" cy="443.3" r="1.00" fill="rgb(137,131,131)"/>
<circle cx="622.3" cy="443.3" r="1.25" fill="rgb(142,136,136)"/>
<circle cx="627.5" cy="444.4" r="1.31" fill="#c04050"/>
<circle cx="632.2" cy="442.7" r="1.32" fill="rgb(88,82,82)"/>
<circle cx="573.5" cy="447.2" r="1.09" fill="rgb(135,129,129)"/>
<circle cx="577.8" cy="447.6" r="1.09" fill="rgb(78,72,72)"/>
<circle cx="583.9" cy="446.7" r="1.22" fill="rgb(82,76,76)"/>
<circle cx="587.8" cy="449.0" r="1.18" fill="#e0505f"/>
<circle cx="592.8" cy="447.5" r="1.19" fill="rgb(131,125,125)"/>
<circle cx="596.1" cy="447.5" r="1.02" fill="rgb(182,176,176)"/>
<circle cx="600.8" cy="448.9" r="0.96" fill="rgb(152,146,146)"/>
<circle cx="607.3" cy="448.9" r="1.08" fill="rgb(164,158,158)"/>
<circle cx="612.3" cy="447.3" r="1.22" fill="rgb(182,176,176)"/>
<circle cx="615.3" cy="448.8" r="1.24" fill="rgb(139,133,133)"/>
<circle cx="619.1" cy="448.6" r="1.02" fill="rgb(177,171,171)"/>
<circle cx="625.6" cy="447.0" r="0.96" fill="rgb(97,91,91)"/>
<circle cx="629.9" cy="448.2" r="1.06" fill="rgb(142,136,136)"/>
<circle cx="635.1" cy="446.9" r="1.20" fill="rgb(81,75,75)"/>
<circle cx="638.1" cy="447.4" r="1.15" fill="rgb(79,73,73)"/>
<circle cx="570.4" cy="451.1" r="1.14" fill="rgb(98,92,92)"/>
<circle cx="575.3" cy="450.6" r="1.23" fill="#e0505f"/>
<circle cx="580.8" cy="451.8" r="1.03" fill="#e86070"/>
<circle cx="585.7" cy="450.6" r="1.13" fill="rgb(166,160,160)"/>
<circle cx="590.3" cy="450.6" r="1.13" fill="rgb(162,156,156)"/>
<circle cx="594.8" cy="451.6" r="1.05" fill="rgb(141,135,135)"/>
<circle cx="599.5" cy="452.9" r="1.03" fill="rgb(135,129,129)"/>
<circle cx="603.7" cy="451.6" r="1.01" fill="#d04858"/>
<circle cx="609.6" cy="451.8" r="1.11" fill="rgb(117,111,111)"/>
<circle cx="613.5" cy="450.6" r="1.11" fill="rgb(145,139,139)"/>
<circle cx="618.4" cy="450.6" r="1.05" fill="rgb(143,137,137)"/>
<circle cx="623.1" cy="451.0" r="1.09" fill="rgb(129,123,123)"/>
<circle cx="627.0" cy="450.7" r="1.34" fill="rgb(105,99,99)"/>
<circle cx="634.0" cy="452.7" r="1.05" fill="rgb(132,126,126)"/>
<circle cx="636.8" cy="452.8" r="1.08" fill="rgb(114,108,108)"/>
<circle cx="640.9" cy="451.7" r="0.99" fill="#d04858"/>
<circle cx="570.1" cy="456.4" r="0.99" fill="rgb(120,114,114)"/>
<circle cx="574.7" cy="457.0" r="1.17" fill="#e86070"/>
<circle cx="580.1" cy="456.8" r="1.28" fill="rgb(119,113,113)"/>
<circle cx="584.8" cy="457.2" r="1.13" fill="rgb(123,117,117)"/>
<circle cx="589.2" cy="456.6" r="1.15" fill="rgb(136,130,130)"/>
<circle cx="594.8" cy="457.2" r="0.97" fill="rgb(177,171,171)"/>
<circle cx="597.8" cy="456.7" r="1.25" fill="rgb(126,120,120)"/>
<circle cx="604.0" cy="454.9" r="1.30" fill="rgb(122,116,116)"/>
<circle cx="609.2" cy="455.9" r="1.35" fill="rgb(157,151,151)"/>
<circle cx="611.5" cy="455.1" r="1.09" fill="rgb(128,122,122)"/>
<circle cx="617.0" cy="455.9" r="1.05" fill="rgb(141,135,135)"/>
<circle cx="621.0" cy="455.0" r="1.34" fill="rgb(189,183,183)"/>
<circle cx="625.9" cy="455.4" r="1.16" fill="rgb(141,135,135)"/>
<circle cx="631.7" cy="457.1" r="1.26" fill="rgb(138,132,132)"/>
<circle cx="636.3" cy="456.3" r="1.19" fill="#d04858"/>
<circle cx="642.1" cy="454.9" r="0.98" fill="rgb(102,96,96)"/>
<circle cx="570.8" cy="460.4" r="1.00" fill="rgb(96,90,90)"/>
<circle cx="573.2" cy="459.5" r="1.09" fill="rgb(113,107,107)"/>
<circle cx="579.2" cy="458.9" r="1.12" fill="rgb(116,110,110)"/>
<circle cx="584.4" cy="460.4" r="1.29" fill="rgb(114,108,108)"/>
<circle cx="587.4" cy="459.4" r="1.04" fill="rgb(147,141,141)"/>
<circle cx="592.4" cy="461.3" r="1.32" fill="rgb(174,168,168)"/>
<circle cx="598.1" cy="459.9" r="1.14" fill="rgb(167,161,161)"/>
<circle cx="603.5" cy="459.8" r="1.07" fill="rgb(119,113,113)"/>
<circle cx="608.7" cy="459.2" r="1.07" fill="#e0505f"/>
<circle cx="612.2" cy="460.5" r="1.06" fill="#e0505f"/>
<circle cx="616.6" cy="459.7" r="1.01" fill="rgb(151,145,145)"/>
<circle cx="621.4" cy="461.2" r="1.01" fill="rgb(141,135,135)"/>
<circle cx="627.0" cy="460.7" r="1.33" fill="rgb(117,111,111)"/>
<circle cx="630.7" cy="461.3" r="1.04" fill="rgb(139,133,133)"/>
<circle cx="636.9" cy="459.5" r="1.30" fill="#c04050"/>
<circle cx="641.2" cy="459.5" r="0.95" fill="rgb(136,130,130)"/>
<circle cx="644.0" cy="460.2" r="1.33" fill="rgb(91,85,85)"/>
<circle cx="648.3" cy="461.4" r="1.34" fill="rgb(115,109,109)"/>
<circle cx="570.6" cy="463.7" r="1.12" fill="rgb(133,127,127)"/>
<circle cx="575.8" cy="462.9" r="1.32" fill="rgb(91,85,85)"/>
<circle cx="582.0" cy="463.5" r="1.15" fill="#e86070"/>
<circle cx="586.8" cy="464.3" r="0.97" fill="rgb(136,130,130)"/>
<circle cx="590.5" cy="462.9" r="1.14" fill="rgb(173,167,167)"/>
<circle cx="595.7" cy="465.4" r="1.12" fill="rgb(180,174,174)"/>
<circle cx="600.0" cy="463.3" r="1.35" fill="rgb(132,126,126)"/>
<circle cx="604.8" cy="463.9" r="1.06" fill="rgb(173,167,167)"/>
<circle cx="608.7" cy="463.6" r="1.08" fill="rgb(188,182,182)"/>
<circle cx="614.1" cy="463.9" r="1.32" fill="rgb(173,167,167)"/>
<circle cx="619.1" cy="462.9" r="1.00" fill="rgb(185,179,179)"/>
<circle cx="622.4" cy="465.0" r="0.99" fill="rgb(149,143,143)"/>
<circle cx="628.6" cy="463.8" r="1.03" fill="rgb(127,121,121)"/>
<circle cx="634.0" cy="463.3" r="1.08" fill="rgb(120,114,114)"/>
<circle cx="636.9" cy="465.4" r="1.19" fill="rgb(110,104,104)"/>
<circle cx="642.4" cy="462.9" r="1.34" fill="rgb(122,116,116)"/>
<circle cx="645.8" cy="463.4" r="1.23" fill="rgb(80,74,74)"/>
<circle cx="567.4" cy="468.1" r="1.06" fill="rgb(129,123,123)"/>
<circle cx="571.7" cy="467.0" r="1.01" fill="rgb(91,85,85)"/>
<circle cx="577.4" cy="467.4" r="1.21" fill="rgb(120,114,114)"/>
<circle cx="580.0" cy="467.0" r="1.07" fill="rgb(92,86,86)"/>
<circle cx="586.1" cy="467.2" r="1.16" fill="#e0505f"/>
<circle cx="590.1" cy="467.2" r="1.06" fill="rgb(118,112,112)"/>
<circle cx="594.0" cy="467.3" r="1.33" fill="#c04050"/>
<circle cx="600.1" cy="469.5" r="1.35" fill="#c04050"/>
<circle cx="605.8" cy="467.6" r="0.99" fill="rgb(177,171,171)"/>
<circle cx="610.2" cy="468.2" r="1.25" fill="rgb(182,176,176)"/>
<circle cx="614.7" cy="468.5" r="1.07" fill="rgb(183,177,177)"/>
<circle cx="617.6" cy="468.1" r="1.32" fill="rgb(152,146,146)"/>
<circle cx="624.3" cy="467.4" r="1.08" fill="rgb(136,130,130)"/>
<circle cx="628.9" cy="467.2" r="1.11" fill="rgb(77,71,71)"/>
<circle cx="633.7" cy="467.2" r="1.27" fill="#d04858"/>
<circle cx="638.8" cy="468.8" r="0.99" fill="rgb(105,99,99)"/>
<circle cx="642.2" cy="468.1" r="1.08" fill="#e0505f"/>
<circle cx="646.8" cy="467.9" r="1.23" fill="rgb(115,109,109)"/>
<circle cx="652.2" cy="468.9" r="1.06" fill="rgb(113,107,107)"/>
<circle cx="569.8" cy="473.7" r="1.08" fill="rgb(131,125,125)"/>
<circle cx="575.9" cy="471.4" r="1.13" fill="rgb(136,130,130)"/>
<circle cx="580.2" cy="471.2" r="0.97" fill="rgb(107,101,101)"/>
<circle cx="585.5" cy="472.0" r="1.16" fill="rgb(161,155,155)"/>
<circle cx="588.0" cy="472.3" r="1.23" fill="#e86070"/>
<circle cx="593.6" cy="471.8" r="1.13" fill="rgb(166,160,160)"/>
<circle cx="599.8" cy="472.9" r="1.01" fill="#e86070"/>
<circle cx="602.6" cy="472.0" r="1.30" fill="rgb(132,126,126)"/>
<circle cx="607.2" cy="472.2" r="1.17" fill="rgb(118,112,112)"/>
<circle cx="613.9" cy="472.5" r="1.13" fill="rgb(142,136,136)"/>
<circle cx="618.0" cy="471.3" r="1.04" fill="rgb(163,157,157)"/>
<circle cx="621.1" cy="471.8" r="1.28" fill="rgb(130,124,124)"/>
<circle cx="627.1" cy="471.2" r="1.10" fill="#c04050"/>
<circle cx="631.5" cy="473.7" r="1.11" fill="rgb(87,81,81)"/>
<circle cx="636.3" cy="472.2" r="1.12" fill="rgb(108,102,102)"/>
<circle cx="639.8" cy="473.7" r="0.98" fill="rgb(80,74,74)"/>
<circle cx="646.7" cy="473.0" r="1.08" fill="rgb(71,65,65)"/>
<circle cx="651.5" cy="472.7" r="1.21" fill="#c04050"/>
<circle cx="572.6" cy="476.5" r="1.02" fill="rgb(80,74,74)"/>
<circle cx="577.1" cy="477.4" r="1.06" fill="rgb(120,114,114)"/>
<circle cx="582.3" cy="476.9" r="1.18" fill="rgb(95,89,89)"/>
<circle cx="585.2" cy="476.7" r="1.20" fill="rgb(161,155,155)"/>
<circle cx="589.9" cy="477.2" r="1.03" fill="rgb(182,176,176)"/>
<circle cx="593.8" cy="476.3" r="1.15" fill="rgb(139,133,133)"/>
<circle cx="600.7" cy="475.6" r="1.00" fill="#e86070"/>
<circle cx="605.6" cy="476.2" r="1.25" fill="rgb(138,132,132)"/>
<circle cx="608.6" cy="475.7" r="1.04" fill="rgb(122,116,116)"/>
<circle cx="613.4" cy="475.7" r="1.06" fill="rgb(159,153,153)"/>
<circle cx="619.0" cy="476.0" r="1.07" fill="#e0505f"/>
<circle cx="622.3" cy="475.5" r="1.04" fill="rgb(141,135,135)"/>
<circle cx="628.4" cy="476.8" r="1.11" fill="rgb(137,131,131)"/>
<circle cx="632.7" cy="476.7" r="1.10" fill="rgb(126,120,120)"/>
<circle cx="636.1" cy="476.5" r="1.18" fill="rgb(72,66,66)"/>
<circle cx="641.4" cy="477.6" r="1.11" fill="rgb(98,92,92)"/>
<circle cx="646.7" cy="476.4" r="1.25" fill="rgb(131,125,125)"/>
<circle cx="650.3" cy="476.2" r="1.18" fill="rgb(88,82,82)"/>
<circle cx="655.0" cy="476.5" r="1.20" fill="rgb(131,125,125)"/>
<circle cx="569.1" cy="480.9" r="1.19" fill="rgb(140,134,134)"/>
<circle cx="573.7" cy="481.0" r="1.35" fill="rgb(111,105,105)"/>
<circle cx="579.1" cy="481.2" r="1.12" fill="rgb(71,65,65)"/>
<circle cx="583.0" cy="481.3" r="1.18" fill="rgb(117,111,111)"/>
<circle cx="586.9" cy="481.1" r="1.24" fill="rgb(164,158,158)"/>
<circle cx="591.8" cy="479.6" r="1.02" fill="rgb(177,171,171)"/>
<circle cx="596.7" cy="479.7" r="1.10" fill="rgb(188,182,182)"/>
<circle cx="602.3" cy="480.8" r="1.15" fill="rgb(136,130,130)"/>
<circle cx="605.4" cy="479.4" r="1.30" fill="rgb(164,158,158)"/>
<circle cx="611.1" cy="480.2" r="1.22" fill="#c04050"/>
<circle cx="615.0" cy="479.9" r="1.14" fill="rgb(129,123,123)"/>
<circle cx="620.3" cy="479.9" r="1.06" fill="rgb(138,132,132)"/>
<circle cx="625.9" cy="481.8" r="1.34" fill="rgb(101,95,95)"/>
<circle cx="630.7" cy="481.2" r="1.30" fill="rgb(82,76,76)"/>
<circle cx="633.5" cy="479.4" r="1.34" fill="rgb(112,106,106)"/>
<circle cx="638.8" cy="481.3" r="1.06" fill="#e86070"/>
<circle cx="644.0" cy="480.2" r="1.15" fill="rgb(124,118,118)"/>
<circle cx="649.2" cy="480.3" r="1.07" fill="rgb(102,96,96)"/>
<circle cx="652.7" cy="481.7" r="1.02" fill="#d04858"/>
<circle cx="567.8" cy="485.3" r="1.20" fill="rgb(75,69,69)"/>
<circle cx="571.7" cy="485.9" r="1.01" fill="rgb(85,79,79)"/>
<circle cx="577.5" cy="485.3" r="1.01" fill="rgb(106,100,100)"/>
<circle cx="581.0" cy="485.1" r="1.05" fill="rgb(90,84,84)"/>
<circle cx="584.4" cy="483.4" r="0.95" fill="rgb(82,76,76)"/>
<circle cx="589.1" cy="485.4" r="1.17" fill="rgb(173,167,167)"/>
<circle cx="595.4" cy="484.5" r="0.98" fill="rgb(115,109,109)"/>
<circle cx="600.2" cy="484.4" r="1.16" fill="#c04050"/>
<circle cx="603.9" cy="485.9" r="1.11" fill="#e0505f"/>
<circle cx="609.9" cy="484.5" r="1.20" fill="rgb(156,150,150)"/>
<circle cx="613.6" cy="483.9" r="1.04" fill="#e0505f"/>
<circle cx="618.2" cy="483.5" r="1.00" fill="rgb(188,182,182)"/>
<circle cx="623.6" cy="483.9" r="0.96" fill="#e86070"/>
<circle cx="627.4" cy="483.8" r="1.21" fill="rgb(103,97,97)"/>
<circle cx="633.9" cy="484.3" r="1.16" fill="rgb(96,90,90)"/>
<circle cx="637.1" cy="484.1" r="1.15" fill="#e86070"/>
<circle cx="640.9" cy="485.8" r="1.13" fill="rgb(88,82,82)"/>
<circle cx="645.6" cy="486.0" r="1.16" fill="#c04050"/>
<circle cx="650.8" cy="483.4" r="1.25" fill="#e0505f"/>
<circle cx="656.8" cy="483.3" r="0.97" fill="#d04858"/>
<circle cx="567.9" cy="488.7" r="1.07" fill="rgb(86,80,80)"/>
<circle cx="571.9" cy="488.4" r="1.34" fill="rgb(84,78,78)"/>
<circle cx="575.6" cy="487.5" r="1.25" fill="rgb(137,131,131)"/>
<circle cx="581.8" cy="487.7" r="1.15" fill="#c04050"/>
<circle cx="587.2" cy="487.3" r="1.32" fill="#e86070"/>
<circle cx="590.3" cy="489.3" r="1.12" fill="rgb(165,159,159)"/>
<circle cx="594.8" cy="489.9" r="1.25" fill="rgb(176,170,170)"/>
<circle cx="599.3" cy="488.6" r="0.99" fill="rgb(160,154,154)"/>
<circle cx="604.0" cy="488.7" r="1.24" fill="rgb(140,134,134)"/>
<circle cx="609.6" cy="489.2" r="1.19" fill="rgb(121,115,115)"/>
<circle cx="613.3" cy="487.8" r="1.32" fill="#e0505f"/>
<circle cx="618.6" cy="488.5" r="1.09" fill="rgb(188,182,182)"/>
<circle cx="623.3" cy="487.4" r="1.10" fill="rgb(165,159,159)"/>
<circle cx="628.8" cy="488.1" r="1.30" fill="rgb(99,93,93)"/>
<circle cx="633.6" cy="487.4" r="1.19" fill="rgb(83,77,77)"/>
<circle cx="637.3" cy="488.7" r="1.12" fill="rgb(141,135,135)"/>
<circle cx="641.4" cy="488.4" r="1.32" fill="rgb(90,84,84)"/>
<circle cx="646.1" cy="489.8" r="1.34" fill="rgb(82,76,76)"/>
<circle cx="650.6" cy="489.5" r="0.99" fill="rgb(85,79,79)"/>
<circle cx="655.6" cy="489.9" r="1.31" fill="rgb(86,80,80)"/>
<circle cx="567.5" cy="492.6" r="1.17" fill="rgb(102,96,96)"/>
<circle cx="573.0" cy="492.4" r="1.34" fill="rgb(97,91,91)"/>
<circle cx="576.8" cy="491.6" r="1.29" fill="rgb(101,95,95)"/>
<circle cx="583.2" cy="492.3" r="1.08" fill="rgb(81,75,75)"/>
<circle cx="586.3" cy="492.0" r="1.24" fill="rgb(186,180,180)"/>
<circle cx="590.1" cy="493.2" r="1.32" fill="rgb(145,139,139)"/>
<circle cx="596.9" cy="493.7" r="1.09" fill="#c04050"/>
<circle cx="600.3" cy="492.4" r="1.32" fill="rgb(140,134,134)"/>
<circle cx="605.8" cy="491.7" r="1.16" fill="rgb(122,116,116)"/>
<circle cx="610.0" cy="493.0" r="1.03" fill="rgb(182,176,176)"/>
<circle cx="616.2" cy="492.3" r="1.12" fill="rgb(128,122,122)"/>
<circle cx="620.5" cy="493.4" r="1.05" fill="rgb(190,184,184)"/>
<circle cx="625.1" cy="493.1" r="1.30" fill="#e0505f"/>
<circle cx="628.7" cy="491.9" r="1.26" fill="rgb(84,78,78)"/>
<circle cx="634.1" cy="491.6" r="1.07" fill="rgb(141,135,135)"/>
<circle cx="638.5" cy="493.6" r="1.14" fill="rgb(91,85,85)"/>
<circle cx="642.2" cy="491.9" r="1.06" fill="rgb(131,125,125)"/>
<circle cx="648.9" cy="492.0" r="1.09" fill="rgb(130,124,124)"/>
<circle cx="652.2" cy="491.4" r="1.18" fill="rgb(131,125,125)"/>
<circle cx="657.4" cy="491.4" r="1.02" fill="#c04050"/>
<circle cx="565.5" cy="497.7" r="1.10" fill="rgb(80,74,74)"/>
<circle cx="569.7" cy="496.1" r="1.34" fill="rgb(71,65,65)"/>
<circle cx="574.5" cy="496.6" r="1.09" fill="#e86070"/>
<circle cx="580.4" cy="495.5" r="1.30" fill="rgb(125,119,119)"/>
<circle cx="585.3" cy="495.7" r="1.22" fill="rgb(81,75,75)"/>
<circle cx="589.0" cy="495.8" r="0.96" fill="#c04050"/>
<circle cx="593.8" cy="497.5" r="1.08" fill="#e0505f"/>
<circle cx="599.1" cy="498.2" r="1.23" fill="rgb(111,105,105)"/>
<circle cx="602.6" cy="496.0" r="1.04" fill="rgb(71,65,65)"/>
<circle cx="608.9" cy="495.9" r="1.16" fill="rgb(126,120,120)"/>
<circle cx="613.1" cy="496.8" r="1.29" fill="rgb(108,102,102)"/>
<circle cx="617.5" cy="496.1" r="1.13" fill="#c04050"/>
<circle cx="622.5" cy="496.9" r="1.07" fill="rgb(110,104,104)"/>
<circle cx="627.0" cy="497.6" r="0.98" fill="rgb(117,111,111)"/>
<circle cx="633.4" cy="497.5" r="1.34" fill="rgb(121,115,115)"/>
<circle cx="636.9" cy="497.8" r="0.95" fill="rgb(114,108,108)"/>
<circle cx="642.2" cy="496.7" r="1.16" fill="#e86070"/>
<circle cx="647.2" cy="496.2" r="1.16" fill="rgb(138,132,132)"/>
<circle cx="650.9" cy="497.8" r="0.98" fill="rgb(108,102,102)"/>
<circle cx="656.2" cy="497.8" r="1.23" fill="rgb(120,114,114)"/>
<circle cx="659.5" cy="496.2" r="0.95" fill="#c04050"/>
<circle cx="567.7" cy="501.2" r="1.28" fill="rgb(94,88,88)"/>
<circle cx="573.0" cy="499.6" r="1.19" fill="rgb(132,126,126)"/>
<circle cx="578.4" cy="501.4" r="1.20" fill="rgb(92,86,86)"/>
<circle cx="582.2" cy="501.0" r="1.14" fill="rgb(136,130,130)"/>
<circle cx="585.9" cy="500.1" r="1.09" fill="#d04858"/>
<circle cx="590.0" cy="499.7" r="1.02" fill="#d04858"/>
<circle cx="595.7" cy="501.9" r="1.20" fill="rgb(135,129,129)"/>
<circle cx="599.5" cy="501.7" r="1.01" fill="rgb(110,104,104)"/>
<circle cx="604.8" cy="500.3" r="1.18" fill="rgb(114,108,108)"/>
<circle cx="609.2" cy="500.8" r="1.14" fill="rgb(77,71,71)"/>
<circle cx="614.6" cy="499.6" r="1.34" fill="rgb(80,74,74)"/>
<circle cx="618.9" cy="500.4" r="1.34" fill="#e0505f"/>
<circle cx="625.1" cy="500.7" r="1.25" fill="#e86070"/>
<circle cx="629.5" cy="501.9" r="1.33" fill="#c04050"/>
<circle cx="632.8" cy="502.1" r="1.25" fill="rgb(122,116,116)"/>
<circle cx="639.5" cy="501.5" r="1.04" fill="rgb(135,129,129)"/>
<circle cx="644.3" cy="500.7" r="1.20" fill="rgb(106,100,100)"/>
<circle cx="647.0" cy="502.1" r="1.14" fill="#e0505f"/>
<circle cx="651.6" cy="501.2" r="1.18" fill="rgb(137,131,131)"/>
<circle cx="658.2" cy="502.1" r="1.28" fill="#e86070"/>
<circle cx="568.0" cy="505.8" r="1.05" fill="rgb(115,109,109)"/>
<circle cx="574.5" cy="505.6" r="1.26" fill="rgb(141,135,135)"/>
<circle cx="577.3" cy="504.6" r="1.30" fill="#c04050"/>
<circle cx="583.7" cy="504.4" r="1.21" fill="rgb(120,114,114)"/>
<circle cx="586.8" cy="505.7" r="1.30" fill="rgb(117,111,111)"/>
<circle cx="591.7" cy="504.4" r="1.34" fill="rgb(85,79,79)"/>
<circle cx="596.0" cy="505.3" r="1.12" fill="rgb(144,138,138)"/>
<circle cx="602.7" cy="506.3" r="1.18" fill="rgb(139,133,133)"/>
<circle cx="605.9" cy="505.4" r="1.05" fill="#e0505f"/>
<circle cx="612.4" cy="505.9" r="1.05" fill="rgb(119,113,113)"/>
<circle cx="615.1" cy="505.6" r="0.98" fill="rgb(131,125,125)"/>
<circle cx="621.4" cy="503.7" r="1.30" fill="rgb(132,126,126)"/>
<circle cx="625.4" cy="504.9" r="1.08" fill="#e86070"/>
<circle cx="630.8" cy="504.7" r="1.29" fill="rgb(121,115,115)"/>
<circle cx="634.5" cy="504.2" r="1.26" fill="rgb(126,120,120)"/>
<circle cx="638.3" cy="505.2" r="1.17" fill="rgb(145,139,139)"/>
<circle cx="643.4" cy="505.5" r="1.30" fill="rgb(111,105,105)"/>
<circle cx="647.5" cy="503.9" r="1.03" fill="rgb(88,82,82)"/>
<circle cx="652.7" cy="505.9" r="1.16" fill="rgb(91,85,85)"/>
<circle cx="657.0" cy="504.8" r="1.31" fill="rgb(72,66,66)"/>
<circle cx="565.8" cy="508.4" r="1.17" fill="#d04858"/>
<circle cx="570.1" cy="510.1" r="1.02" fill="rgb(126,120,120)"/>
<circle cx="575.9" cy="508.0" r="1.01" fill="rgb(89,83,83)"/>
<circle cx="579.3" cy="509.1" r="1.30" fill="rgb(77,71,71)"/>
<circle cx="584.0" cy="508.6" r="1.21" fill="rgb(78,72,72)"/>
<circle cx="588.5" cy="509.5" r="1.30" fill="rgb(100,94,94)"/>
<circle cx="595.2" cy="510.1" r="1.23" fill="rgb(110,104,104)"/>
<circle cx="599.1" cy="508.9" r="1.13" fill="#d04858"/>
<circle cx="603.6" cy="508.4" r="1.20" fill="rgb(143,137,137)"/>
<circle cx="608.6" cy="508.2" r="1.06" fill="rgb(137,131,131)"/>
<circle cx="611.9" cy="510.0" r="0.96" fill="rgb(122,116,116)"/>
<circle cx="617.4" cy="510.1" r="0.99" fill="rgb(91,85,85)"/>
<circle cx="623.6" cy="507.8" r="1.08" fill="rgb(100,94,94)"/>
<circle cx="627.4" cy="510.3" r="1.07" fill="rgb(128,122,122)"/>
<circle cx="632.7" cy="508.1" r="1.18" fill="rgb(145,139,139)"/>
<circle cx="635.2" cy="508.8" r="1.05" fill="#e0505f"/>
<circle cx="639.9" cy="508.5" r="1.20" fill="rgb(130,124,124)"/>
<circle cx="646.9" cy="510.1" r="0.97" fill="rgb(119,113,113)"/>
<circle cx="650.2" cy="510.1" r="1.08" fill="rgb(78,72,72)"/>
<circle cx="655.5" cy="509.3" r="1.11" fill="rgb(89,83,83)"/>
<circle cx="658.8" cy="509.4" r="1.34" fill="rgb(135,129,129)"/>
<circle cx="570.1" cy="513.3" r="1.03" fill="rgb(101,95,95)"/>
<circle cx="573.6" cy="513.5" r="1.27" fill="rgb(107,101,101)"/>
<circle cx="579.1" cy="512.2" r="0.95" fill="rgb(142,136,136)"/>
<circle cx="582.0" cy="514.6" r="1.19" fill="rgb(123,117,117)"/>
<circle cx="587.3" cy="513.1" r="1.16" fill="rgb(121,115,115)"/>
<circle cx="593.1" cy="512.7" r="1.30" fill="rgb(110,104,104)"/>
<circle cx="595.9" cy="514.6" r="1.23" fill="rgb(103,97,97)"/>
<circle cx="601.2" cy="514.6" r="1.23" fill="rgb(142,136,136)"/>
<circle cx="607.5" cy="512.3" r="1.24" fill="#e86070"/>
<circle cx="610.3" cy="513.1" r="1.22" fill="#c04050"/>
<circle cx="615.2" cy="512.2" r="0.97" fill="rgb(75,69,69)"/>
<circle cx="620.3" cy="512.9" r="1.26" fill="rgb(125,119,119)"/>
<circle cx="624.3" cy="511.9" r="1.13" fill="rgb(122,116,116)"/>
<circle cx="629.2" cy="514.2" r="1.00" fill="rgb(117,111,111)"/>
<circle cx="634.8" cy="514.4" r="1.20" fill="rgb(114,108,108)"/>
<circle cx="638.8" cy="513.6" r="1.06" fill="rgb(145,139,139)"/>
<circle cx="643.6" cy="511.9" r="1.30" fill="rgb(74,68,68)"/>
<circle cx="650.0" cy="511.9" r="1.18" fill="rgb(111,105,105)"/>
<circle cx="652.2" cy="513.6" r="1.07" fill="#d04858"/>
<circle cx="659.3" cy="514.4" r="1.05" fill="#e86070"/>
<circle cx="571.5" cy="518.1" r="1.33" fill="#e0505f"/>
<circle cx="576.3" cy="517.3" r="1.10" fill="rgb(101,95,95)"/>
<circle cx="582.4" cy="518.3" r="1.10" fill="rgb(115,109,109)"/>
<circle cx="585.7" cy="516.2" r="0.98" fill="rgb(126,120,120)"/>
<circle cx="591.8" cy="516.9" r="1.14" fill="#e0505f"/>
<circle cx="595.0" cy="517.2" r="1.11" fill="rgb(82,76,76)"/>
<circle cx="599.4" cy="518.2" r="1.05" fill="rgb(142,136,136)"/>
<circle cx="604.4" cy="517.7" r="1.16" fill="rgb(143,137,137)"/>
<circle cx="610.2" cy="518.4" r="1.27" fill="rgb(111,105,105)"/>
<circle cx="615.0" cy="516.1" r="1.24" fill="rgb(121,115,115)"/>
<circle cx="618.3" cy="516.7" r="1.13" fill="rgb(117,111,111)"/>
<circle cx="624.8" cy="516.9" r="1.13" fill="rgb(143,137,137)"/>
<circle cx="629.8" cy="518.3" r="1.23" fill="rgb(94,88,88)"/>
<circle cx="632.4" cy="518.6" r="1.07" fill="rgb(127,121,121)"/>
<circle cx="637.0" cy="518.5" r="1.14" fill="rgb(83,77,77)"/>
<circle cx="641.4" cy="517.3" r="0.97" fill="rgb(89,83,83)"/>
<circle cx="646.0" cy="517.6" r="1.07" fill="#e0505f"/>
<circle cx="653.0" cy="516.4" r="1.35" fill="rgb(86,80,80)"/>
<circle cx="656.1" cy="518.7" r="1.04" fill="rgb(136,130,130)"/>
<circle cx="572.2" cy="521.6" r="1.29" fill="rgb(83,77,77)"/>
<circle cx="576.0" cy="521.4" r="1.06" fill="rgb(111,105,105)"/>
<circle cx="580.0" cy="522.3" r="1.00" fill="#d04858"/>
<circle cx="585.1" cy="522.2" r="1.29" fill="rgb(90,84,84)"/>
<circle cx="589.9" cy="520.8" r="1.11" fill="rgb(77,71,71)"/>
<circle cx="593.4" cy="522.4" r="1.21" fill="rgb(106,100,100)"/>
<circle cx="598.7" cy="522.6" r="1.25" fill="rgb(98,92,92)"/>
<circle cx="603.2" cy="522.2" r="1.12" fill="rgb(79,73,73)"/>
<circle cx="608.7" cy="522.7" r="1.05" fill="rgb(130,124,124)"/>
<circle cx="613.0" cy="521.4" r="0.96" fill="rgb(114,108,108)"/>
<circle cx="618.5" cy="521.6" r="1.13" fill="rgb(145,139,139)"/>
<circle cx="622.8" cy="521.7" r="1.25" fill="rgb(72,66,66)"/>
<circle cx="627.6" cy="521.9" r="1.25" fill="#c04050"/>
<circle cx="631.9" cy="520.1" r="1.08" fill="rgb(126,120,120)"/>
<circle cx="637.3" cy="520.1" r="1.25" fill="rgb(88,82,82)"/>
<circle cx="641.8" cy="520.8" r="1.15" fill="rgb(127,121,121)"/>
<circle cx="646.5" cy="520.9" r="1.31" fill="rgb(105,99,99)"/>
<circle cx="652.4" cy="521.9" r="1.14" fill="#e0505f"/>
<circle cx="656.0" cy="520.2" r="1.19" fill="#e86070"/>
<circle cx="659.9" cy="521.7" r="1.06" fill="rgb(118,112,112)"/>
<circle cx="569.2" cy="525.5" r="1.01" fill="rgb(101,95,95)"/>
<circle cx="573.3" cy="524.3" r="1.16" fill="rgb(134,128,128)"/>
<circle cx="578.3" cy="525.1" r="0.95" fill="rgb(97,91,91)"/>
<circle cx="581.9" cy="525.4" r="1.28" fill="rgb(109,103,103)"/>
<circle cx="587.7" cy="524.4" r="1.09" fill="rgb(85,79,79)"/>
<circle cx="591.5" cy="526.6" r="1.34" fill="rgb(144,138,138)"/>
<circle cx="597.5" cy="526.0" r="1.07" fill="rgb(132,126,126)"/>
<circle cx="601.2" cy="525.6" r="1.20" fill="rgb(115,109,109)"/>
<circle cx="607.5" cy="525.1" r="1.10" fill="rgb(94,88,88)"/>
<circle cx="611.1" cy="524.9" r="1.24" fill="rgb(105,99,99)"/>
<circle cx="615.9" cy="525.1" r="0.99" fill="rgb(128,122,122)"/>
<circle cx="621.9" cy="525.3" r="1.13" fill="rgb(137,131,131)"/>
<circle cx="625.0" cy="525.4" r="1.01" fill="#c04050"/>
<circle cx="631.4" cy="524.3" r="1.10" fill="#c04050"/>
<circle cx="635.0" cy="525.8" r="0.95" fill="rgb(110,104,104)"/>
<circle cx="640.6" cy="526.5" r="1.20" fill="rgb(144,138,138)"/>
<circle cx="643.8" cy="526.2" r="1.11" fill="rgb(111,105,105)"/>
<circle cx="648.6" cy="526.4" r="1.33" fill="rgb(133,127,127)"/>
<circle cx="653.0" cy="524.6" r="1.00" fill="rgb(97,91,91)"/>
<circle cx="659.2" cy="526.7" r="1.07" fill="rgb(128,122,122)"/>
<circle cx="569.6" cy="530.0" r="1.04" fill="rgb(107,101,101)"/>
<circle cx="575.4" cy="530.7" r="1.25" fill="#e0505f"/>
<circle cx="581.2" cy="530.3" r="1.33" fill="#e86070"/>
<circle cx="585.3" cy="530.2" r="1.23" fill="#d04858"/>
<circle cx="590.2" cy="530.8" r="1.19" fill="rgb(74,68,68)"/>
<circle cx="593.1" cy="529.9" r="1.06" fill="rgb(115,109,109)"/>
<circle cx="598.2" cy="528.5" r="1.23" fill="rgb(136,130,130)"/>
<circle cx="604.6" cy="530.7" r="0.98" fill="rgb(140,134,134)"/>
<circle cx="609.5" cy="530.0" r="1.07" fill="rgb(70,64,64)"/>
<circle cx="612.5" cy="530.6" r="1.07" fill="rgb(87,81,81)"/>
<circle cx="617.1" cy="528.9" r="0.99" fill="rgb(128,122,122)"/>
<circle cx="622.4" cy="530.5" r="0.98" fill="rgb(145,139,139)"/>
<circle cx="627.3" cy="529.2" r="1.16" fill="rgb(94,88,88)"/>
<circle cx="630.5" cy="528.4" r="1.15" fill="rgb(141,135,135)"/>
<circle cx="636.6" cy="528.5" r="1.17" fill="rgb(96,90,90)"/>
<circle cx="641.2" cy="529.4" r="1.05" fill="rgb(116,110,110)"/>
<circle cx="646.6" cy="530.8" r="0.98" fill="rgb(121,115,115)"/>
<circle cx="651.9" cy="529.3" r="1.10" fill="rgb(97,91,91)"/>
<circle cx="654.5" cy="528.2" r="1.26" fill="rgb(75,69,69)"/>
<circle cx="659.6" cy="528.5" r="1.03" fill="rgb(129,123,123)"/>
<circle cx="570.7" cy="533.5" r="1.34" fill="rgb(121,115,115)"/>
<circle cx="574.1" cy="533.0" r="1.15" fill="rgb(120,114,114)"/>
<circle cx="579.5" cy="533.1" r="0.99" fill="#d04858"/>
<circle cx="585.2" cy="533.3" r="1.06" fill="rgb(145,139,139)"/>
<circle cx="587.7" cy="534.8" r="1.14" fill="rgb(144,138,138)"/>
<circle cx="593.9" cy="535.0" r="1.24" fill="rgb(106,100,100)"/>
<circle cx="597.9" cy="534.7" r="1.05" fill="#e0505f"/>
<circle cx="603.9" cy="533.3" r="1.23" fill="rgb(127,121,121)"/>
<circle cx="606.4" cy="533.8" r="1.31" fill="rgb(95,89,89)"/>
<circle cx="611.4" cy="533.7" r="1.28" fill="rgb(81,75,75)"/>
<circle cx="617.0" cy="533.4" r="1.23" fill="rgb(98,92,92)"/>
<circle cx="622.4" cy="534.6" r="1.23" fill="#e0505f"/>
<circle cx="627.2" cy="534.6" r="1.17" fill="rgb(143,137,137)"/>
<circle cx="629.8" cy="533.1" r="1.04" fill="rgb(113,107,107)"/>
<circle cx="636.8" cy="534.8" r="1.06" fill="#e86070"/>
<circle cx="641.0" cy="534.7" r="1.16" fill="#e0505f"/>
<circle cx="645.0" cy="532.5" r="0.96" fill="rgb(83,77,77)"/>
<circle cx="649.5" cy="533.1" r="1.22" fill="rgb(116,110,110)"/>
<circle cx="655.3" cy="534.2" r="1.27" fill="rgb(105,99,99)"/>
<circle cx="573.8" cy="539.1" r="1.02" fill="#e0505f"/>
<circle cx="579.4" cy="537.1" r="1.05" fill="rgb(131,125,125)"/>
<circle cx="583.1" cy="538.1" r="1.21" fill="rgb(138,132,132)"/>
<circle cx="586.8" cy="538.7" r="0.96" fill="rgb(134,128,128)"/>
<circle cx="591.8" cy="538.9" r="1.15" fill="rgb(120,114,114)"/>
<circle cx="597.0" cy="536.9" r="1.35" fill="rgb(127,121,121)"/>
<circle cx="601.2" cy="537.3" r="1.04" fill="rgb(137,131,131)"/>
<circle cx="606.2" cy="539.0" r="1.16" fill="#d04858"/>
<circle cx="610.4" cy="538.9" r="1.04" fill="rgb(82,76,76)"/>
<circle cx="615.2" cy="538.1" r="1.02" fill="rgb(142,136,136)"/>
<circle cx="619.4" cy="537.2" r="1.10" fill="rgb(127,121,121)"/>
<circle cx="624.0" cy="536.5" r="1.18" fill="rgb(115,109,109)"/>
<circle cx="629.6" cy="538.8" r="1.15" fill="rgb(118,112,112)"/>
<circle cx="634.8" cy="538.7" r="1.11" fill="rgb(70,64,64)"/>
<circle cx="640.3" cy="536.6" r="1.00" fill="#e0505f"/>
<circle cx="643.5" cy="538.1" r="1.04" fill="#e86070"/>
<circle cx="650.2" cy="536.7" r="1.06" fill="rgb(75,69,69)"/>
<circle cx="654.2" cy="538.5" r="1.07" fill="rgb(145,139,139)"/>
<circle cx="658.5" cy="536.5" r="1.13" fill="rgb(128,122,122)"/>
<circle cx="573.2" cy="542.0" r="1.29" fill="rgb(90,84,84)"/>
<circle cx="580.3" cy="541.1" r="1.32" fill="rgb(130,124,124)"/>
<circle cx="582.9" cy="542.1" r="1.06" fill="rgb(121,115,115)"/>
<circle cx="587.8" cy="541.1" r="1.23" fill="rgb(106,100,100)"/>
<circle cx="594.0" cy="541.9" r="1.10" fill="rgb(124,118,118)"/>
<circle cx="598.3" cy="542.5" r="1.21" fill="rgb(121,115,115)"/>
<circle cx="602.1" cy="542.4" r="1.22" fill="#d04858"/>
<circle cx="606.0" cy="542.7" r="0.99" fill="rgb(84,78,78)"/>
<circle cx="613.3" cy="541.1" r="1.03" fill="rgb(113,107,107)"/>
<circle cx="615.8" cy="540.5" r="1.03" fill="rgb(145,139,139)"/>
<circle cx="620.0" cy="541.6" r="1.08" fill="#c04050"/>
<circle cx="625.1" cy="541.7" r="1.22" fill="rgb(103,97,97)"/>
<circle cx="629.9" cy="541.0" r="1.09" fill="#e86070"/>
<circle cx="635.6" cy="542.3" r="1.13" fill="rgb(125,119,119)"/>
<circle cx="640.8" cy="542.3" r="0.97" fill="rgb(91,85,85)"/>
<circle cx="644.7" cy="542.9" r="1.17" fill="rgb(119,113,113)"/>
<circle cx="648.3" cy="542.1" r="0.97" fill="rgb(140,134,134)"/>
<circle cx="655.5" cy="541.0" r="1.04" fill="rgb(107,101,101)"/>
<circle cx="576.7" cy="545.6" r="1.28" fill="rgb(124,118,118)"/>
<circle cx="581.7" cy="546.6" r="1.27" fill="rgb(105,99,99)"/>
<circle cx="585.3" cy="545.7" r="1.07" fill="rgb(128,122,122)"/>
<circle cx="591.1" cy="547.0" r="1.33" fill="rgb(122,116,116)"/>
<circle cx="593.8" cy="545.9" r="1.28" fill="rgb(121,115,115)"/>
<circle cx="598.9" cy="545.2" r="1.33" fill="rgb(99,93,93)"/>
<circle cx="603.7" cy="546.4" r="1.30" fill="rgb(102,96,96)"/>
<circle cx="609.6" cy="546.0" r="1.31" fill="#c04050"/>
<circle cx="613.7" cy="545.9" r="1.29" fill="rgb(77,71,71)"/>
<circle cx="618.4" cy="545.0" r="1.16" fill="rgb(124,118,118)"/>
<circle cx="623.2" cy="547.1" r="1.21" fill="rgb(103,97,97)"/>
<circle cx="626.7" cy="545.4" r="1.05" fill="#e0505f"/>
<circle cx="632.4" cy="544.7" r="1.09" fill="rgb(89,83,83)"/>
<circle cx="637.6" cy="545.8" r="1.13" fill="rgb(82,76,76)"/>
<circle cx="642.4" cy="545.2" r="1.17" fill="rgb(97,91,91)"/>
<circle cx="645.1" cy="545.6" r="0.99" fill="#e86070"/>
<circle cx="650.2" cy="547.2" r="1.06" fill="rgb(118,112,112)"/>
<circle cx="655.9" cy="544.9" r="1.33" fill="rgb(77,71,71)"/>
<circle cx="578.4" cy="550.9" r="1.18" fill="rgb(73,67,67)"/>
<circle cx="581.0" cy="550.5" r="1.22" fill="rgb(73,67,67)"/>
<circle cx="587.8" cy="548.7" r="1.30" fill="rgb(133,127,127)"/>
<circle cx="591.5" cy="550.3" r="1.21" fill="#e0505f"/>
<circle cx="596.1" cy="548.8" r="1.21" fill="rgb(121,115,115)"/>
<circle cx="599.9" cy="550.1" r="1.06" fill="#c04050"/>
<circle cx="606.2" cy="551.4" r="1.08" fill="rgb(145,139,139)"/>
<circle cx="610.9" cy="549.9" r="1.28" fill="rgb(139,133,133)"/>
<circle cx="614.9" cy="549.8" r="1.29" fill="rgb(142,136,136)"/>
<circle cx="619.3" cy="550.5" r="1.11" fill="rgb(86,80,80)"/>
<circle cx="623.6" cy="550.0" r="1.18" fill="rgb(104,98,98)"/>
<circle cx="629.1" cy="549.7" r="0.98" fill="rgb(73,67,67)"/>
<circle cx="633.6" cy="550.6" r="1.16" fill="rgb(72,66,66)"/>
<circle cx="637.7" cy="550.4" r="1.18" fill="#c04050"/>
<circle cx="644.3" cy="551.0" r="1.22" fill="rgb(101,95,95)"/>
<circle cx="648.2" cy="548.8" r="1.19" fill="rgb(101,95,95)"/>
<circle cx="651.8" cy="550.4" r="1.15" fill="rgb(110,104,104)"/>
<circle cx="582.9" cy="553.1" r="1.28" fill="rgb(124,118,118)"/>
<circle cx="586.3" cy="553.1" r="1.15" fill="rgb(85,79,79)"/>
<circle cx="590.8" cy="554.0" r="0.97" fill="#e86070"/>
<circle cx="595.5" cy="553.2" r="1.29" fill="#e0505f"/>
<circle cx="602.4" cy="554.8" r="1.11" fill="rgb(123,117,117)"/>
<circle cx="604.9" cy="554.4" r="1.28" fill="rgb(138,132,132)"/>
<circle cx="610.3" cy="553.7" r="1.24" fill="rgb(81,75,75)"/>
<circle cx="614.6" cy="553.2" r="1.01" fill="rgb(120,114,114)"/>
<circle cx="619.8" cy="554.3" r="1.13" fill="rgb(79,73,73)"/>
<circle cx="626.0" cy="553.6" r="1.06" fill="rgb(138,132,132)"/>
<circle cx="630.3" cy="554.6" r="0.98" fill="rgb(113,107,107)"/>
<circle cx="635.5" cy="554.0" r="1.04" fill="#c04050"/>
<circle cx="638.3" cy="554.9" r="1.31" fill="rgb(122,116,116)"/>
<circle cx="643.1" cy="554.0" r="1.31" fill="rgb(142,136,136)"/>
<circle cx="647.7" cy="554.3" r="1.00" fill="rgb(136,130,130)"/>
<circle cx="581.4" cy="557.1" r="1.06" fill="rgb(111,105,105)"/>
<circle cx="586.3" cy="559.6" r="1.23" fill="rgb(96,90,90)"/>
<circle cx="589.8" cy="558.1" r="1.22" fill="rgb(131,125,125)"/>
<circle cx="596.3" cy="557.4" r="0.98" fill="rgb(136,130,130)"/>
<circle cx="600.8" cy="559.2" r="1.13" fill="rgb(128,122,122)"/>
<circle cx="603.5" cy="559.3" r="1.11" fill="rgb(141,135,135)"/>
<circle cx="608.9" cy="558.1" r="1.19" fill="rgb(104,98,98)"/>
<circle cx="613.2" cy="557.4" r="0.95" fill="rgb(130,124,124)"/>
<circle cx="618.2" cy="558.4" r="1.34" fill="rgb(108,102,102)"/>
<circle cx="622.6" cy="556.9" r="1.15" fill="#c04050"/>
<circle cx="629.4" cy="557.8" r="1.12" fill="rgb(106,100,100)"/>
<circle cx="633.4" cy="559.2" r="1.28" fill="#c04050"/>
<circle cx="636.1" cy="558.6" r="0.96" fill="rgb(106,100,100)"/>
<circle cx="642.6" cy="558.1" r="1.11" fill="rgb(78,72,72)"/>
<circle cx="646.6" cy="559.4" r="1.13" fill="rgb(76,70,70)"/>
<circle cx="584.5" cy="561.2" r="1.26" fill="rgb(120,114,114)"/>
<circle cx="588.7" cy="562.6" r="1.20" fill="#e0505f"/>
<circle cx="594.7" cy="562.1" r="1.08" fill="rgb(140,134,134)"/>
<circle cx="597.6" cy="561.2" r="1.05" fill="rgb(105,99,99)"/>
<circle cx="604.4" cy="562.3" r="1.04" fill="#e0505f"/>
<circle cx="608.0" cy="563.5" r="0.96" fill="rgb(100,94,94)"/>
<circle cx="614.2" cy="562.5" r="1.00" fill="#c04050"/>
<circle cx="619.0" cy="561.0" r="0.99" fill="#e86070"/>
<circle cx="622.4" cy="563.2" r="1.24" fill="rgb(110,104,104)"/>
<circle cx="626.5" cy="563.6" r="1.00" fill="rgb(114,108,108)"/>
<circle cx="632.9" cy="561.7" r="1.08" fill="rgb(123,117,117)"/>
<circle cx="636.0" cy="562.3" r="1.33" fill="rgb(101,95,95)"/>
<circle cx="640.2" cy="562.9" r="1.10" fill="#e0505f"/>
<circle cx="591.5" cy="567.3" r="1.12" fill="rgb(89,83,83)"/>
<circle cx="594.6" cy="567.1" r="1.30" fill="rgb(85,79,79)"/>
<circle cx="600.2" cy="567.3" r="1.28" fill="rgb(97,91,91)"/>
<circle cx="606.1" cy="565.1" r="1.18" fill="#d04858"/>
<circle cx="610.8" cy="567.3" r="1.18" fill="rgb(124,118,118)"/>
<circle cx="615.5" cy="567.4" r="1.18" fill="rgb(122,116,116)"/>
<circle cx="619.3" cy="565.9" r="1.18" fill="#e86070"/>
<circle cx="623.1" cy="566.5" r="1.02" fill="#e86070"/>
<circle cx="628.3" cy="566.7" r="1.08" fill="rgb(90,84,84)"/>
<circle cx="633.2" cy="567.1" r="1.08" fill="rgb(88,82,82)"/>
<circle cx="638.3" cy="566.7" r="1.14" fill="rgb(114,108,108)"/>
<circle cx="593.2" cy="571.5" r="1.00" fill="rgb(106,100,100)"/>
<circle cx="598.8" cy="570.7" r="1.02" fill="#c04050"/>
<circle cx="602.3" cy="569.6" r="1.20" fill="rgb(102,96,96)"/>
<circle cx="607.6" cy="570.7" r="1.00" fill="rgb(142,136,136)"/>
<circle cx="612.4" cy="569.2" r="1.23" fill="rgb(118,112,112)"/>
<circle cx="617.8" cy="571.7" r="0.98" fill="rgb(140,134,134)"/>
<circle cx="623.5" cy="569.5" r="1.07" fill="rgb(77,71,71)"/>
<circle cx="626.9" cy="571.2" r="1.06" fill="rgb(114,108,108)"/>
<circle cx="631.6" cy="570.4" r="1.05" fill="rgb(105,99,99)"/>
<circle cx="600.6" cy="573.8" r="1.01" fill="#e0505f"/>
<circle cx="603.8" cy="573.4" r="1.18" fill="rgb(118,112,112)"/>
<circle cx="609.6" cy="575.0" r="1.34" fill="rgb(88,82,82)"/>
<circle cx="615.5" cy="574.4" r="1.05" fill="rgb(90,84,84)"/>
<circle cx="617.6" cy="574.9" r="1.29" fill="rgb(84,78,78)"/>
<circle cx="623.2" cy="574.0" r="1.04" fill="rgb(130,124,124)"/>
<circle cx="627.5" cy="574.0" r="1.28" fill="rgb(87,81,81)"/>
<circle cx="603.7" cy="577.4" r="1.31" fill="rgb(109,103,103)"/>
<circle cx="609.0" cy="578.5" r="1.19" fill="rgb(116,110,110)"/>
<circle cx="615.1" cy="579.1" r="1.19" fill="rgb(100,94,94)"/>
<circle cx="618.6" cy="578.8" r="1.23" fill="rgb(102,96,96)"/>
</g>
<filter id="fb2" x="-50%" y="-50%" width="200%" height="200%"><feGaussianBlur stdDeviation="1.2"/></filter>
<ellipse cx="602.3" cy="445.5" rx="7.5" ry="9.5" fill="#d89aa2" opacity="0.55" transform="rotate(-15 602.3 445)" filter="url(#fb2)"/>
<ellipse cx="602.3" cy="445" rx="6" ry="8" fill="#f3d0d2" transform="rotate(-15 602.3 445)" filter="url(#fb)"/>
<ellipse cx="601.8" cy="444" rx="3.5" ry="5" fill="#fae6e6" transform="rotate(-15 602.3 445)" filter="url(#fb2)"/>
<text x="527.7" y="429.4" font-size="16.8" font-weight="bold" fill="#fff">f</text>
<text x="692.6" y="427.6" font-size="11" font-weight="bold" text-anchor="end" fill="#fff">DAPI</text>
<text x="692.3" y="438.3" font-size="11" font-weight="bold" text-anchor="end" fill="#ff2a0a">Ki67</text>
<rect x="645.3" y="576.4" width="48.9" height="3.4" fill="#fff"/>
<text x="670" y="569.6" font-size="11.3" text-anchor="middle" fill="#eee">200 µm</text>
</svg></body></html>
